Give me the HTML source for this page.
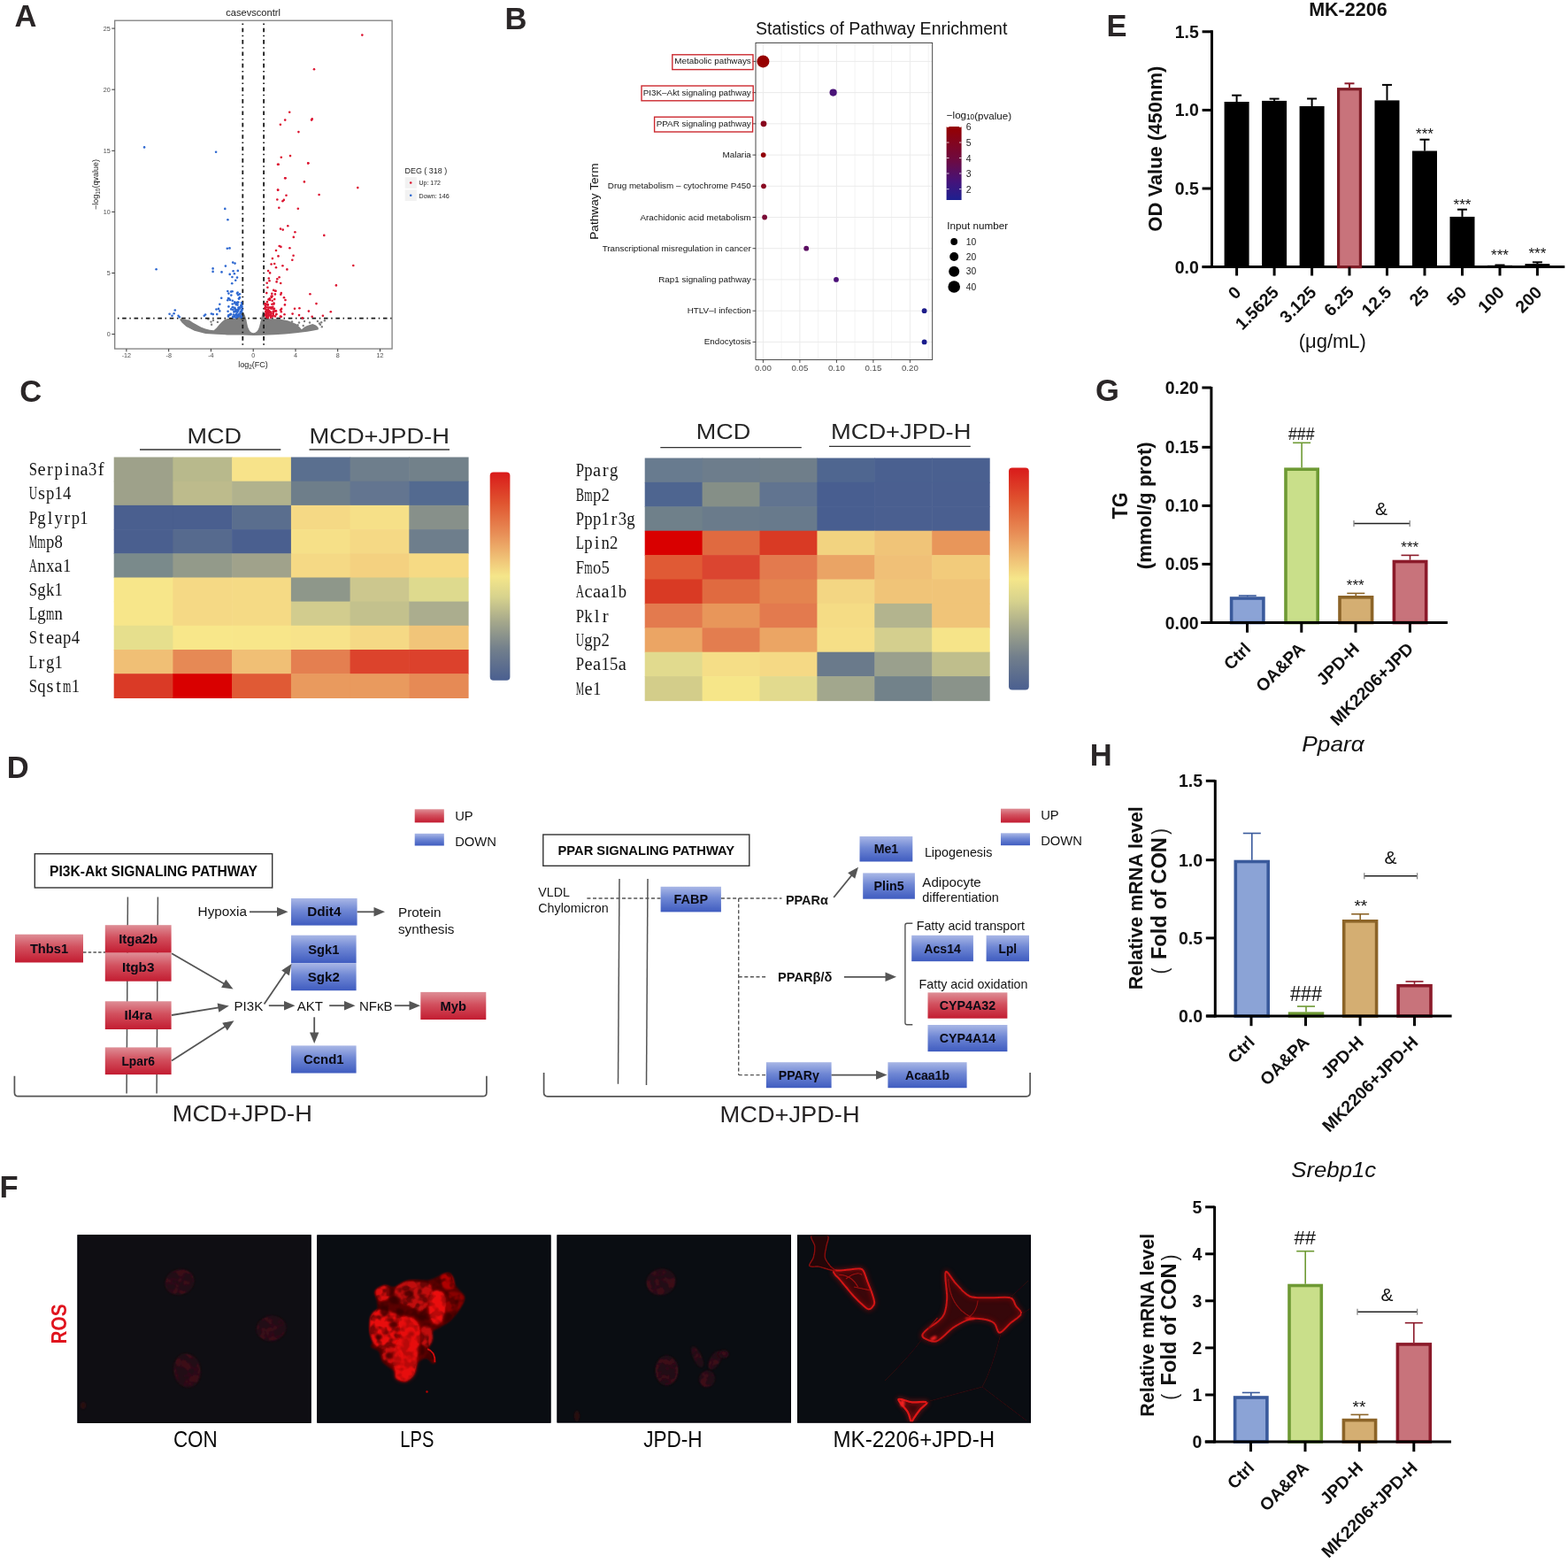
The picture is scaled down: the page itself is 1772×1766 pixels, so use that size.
<!DOCTYPE html>
<html><head><meta charset="utf-8"><title>Figure</title>
<style>html,body{margin:0;padding:0;background:#fff;}svg{display:block;font-family:"Liberation Sans",Arial,sans-serif;}</style>
</head><body>
<svg width="1772" height="1766" viewBox="0 0 1772 1766">
<text x="16.6" y="29.5" font-size="34.5" font-weight="bold" fill="#2A2627">A</text>
<text x="286.1" y="13.5" font-size="11" text-anchor="middle" fill="#1a1a1a" textLength="61.6" lengthAdjust="spacingAndGlyphs" dominant-baseline="central">casevscontrl</text>
<path d="M203.5,360 L207.4,360.8 L213.6,361.6 L218,364.5 L222.9,367.3 L227.5,369.8 L232.2,371.6 L237,372.8 L241.6,373.3 L244.7,370.4 L247.8,366.7 L250.9,363.6 L254,361.1 L257.1,359.9 L266.4,359.8 L271,357 L273.2,352.8 L275.2,353.1 L276.7,356 L278.3,361.1 L279.3,366 L280.0,369.2 L281.3,372.2 L282.4,374.2 L284.3,375.8 L286.4,376.3 L288.5,375.8 L290.5,374.2 L291.8,372.2 L293.0,369.2 L293.8,366 L295.0,361.1 L296.0,356 L297.1,351.1 L298.5,355 L299.3,359.9 L316,360.5 L325.3,362.3 L334.7,366.1 L338.5,369.5 L340.9,372.3 L344,369.6 L347.1,367.9 L353.3,366.1 L357,367.5 L359.5,369.8 L360,371.5 L359.5,372.6 L353,373.8 L347.1,374.8 L334.7,376.2 L322.2,377.4 L309.8,378.2 L297.4,378.8 L286.2,378.9 L273.8,378.6 L257.1,378.4 L244.7,377.8 L232.2,377.0 L219.8,373.8 L210.5,369.0 L205.5,364.5 L203.6,361.2 Z" fill="#7F7F7F" />
<circle cx="344.0" cy="363.0" r="1.2" fill="#7F7F7F"/>
<circle cx="342.7" cy="368.0" r="1.2" fill="#7F7F7F"/>
<circle cx="358.9" cy="363.0" r="1.2" fill="#7F7F7F"/>
<circle cx="363.2" cy="364.2" r="1.2" fill="#7F7F7F"/>
<circle cx="362.0" cy="366.7" r="1.2" fill="#7F7F7F"/>
<circle cx="363.8" cy="369.2" r="1.2" fill="#7F7F7F"/>
<circle cx="366.9" cy="362.3" r="1.2" fill="#7F7F7F"/>
<circle cx="336.5" cy="367.3" r="1.2" fill="#7F7F7F"/>
<circle cx="338.0" cy="364.5" r="1.2" fill="#7F7F7F"/>
<circle cx="238.5" cy="363.6" r="1.2" fill="#7F7F7F"/>
<circle cx="239.1" cy="366.7" r="1.2" fill="#7F7F7F"/>
<circle cx="245.9" cy="363.9" r="1.2" fill="#7F7F7F"/>
<circle cx="235.3" cy="360.5" r="1.2" fill="#7F7F7F"/>
<circle cx="204.9" cy="361.7" r="1.2" fill="#7F7F7F"/>
<circle cx="241.0" cy="362.0" r="1.2" fill="#7F7F7F"/>
<circle cx="330.0" cy="363.5" r="1.2" fill="#7F7F7F"/>
<circle cx="350.0" cy="364.5" r="1.2" fill="#7F7F7F"/>
<circle cx="361.0" cy="365.5" r="1.2" fill="#7F7F7F"/>
<rect x="129.7" y="23.2" width="313.4" height="370.9" fill="none" stroke="#7F7F7F" stroke-width="1.3" />
<line x1="274.3" y1="23.8" x2="274.3" y2="393.5" stroke="#1a1a1a" stroke-width="1.8" stroke-dasharray="4.6,3.6,1.5,3.7" stroke-dashoffset="5.55"/>
<line x1="298.1" y1="23.8" x2="298.1" y2="393.5" stroke="#1a1a1a" stroke-width="1.8" stroke-dasharray="4.6,3.6,1.5,3.7" stroke-dashoffset="5.55"/>
<line x1="130.3" y1="359.6" x2="442.5" y2="359.6" stroke="#1a1a1a" stroke-width="1.8" stroke-dasharray="4.6,3.6,1.5,3.7" stroke-dashoffset="5.55"/>
<circle cx="409.3" cy="39.6" r="1.3" fill="#DC1430"/>
<circle cx="355.0" cy="78.3" r="1.3" fill="#DC1430"/>
<circle cx="327.2" cy="126.8" r="1.3" fill="#DC1430"/>
<circle cx="322.2" cy="135.6" r="1.3" fill="#DC1430"/>
<circle cx="316.9" cy="140.8" r="1.3" fill="#DC1430"/>
<circle cx="352.7" cy="134.4" r="1.3" fill="#DC1430"/>
<circle cx="352.1" cy="135.6" r="1.3" fill="#DC1430"/>
<circle cx="337.4" cy="149.1" r="1.3" fill="#DC1430"/>
<circle cx="317.8" cy="177.8" r="1.3" fill="#DC1430"/>
<circle cx="328.0" cy="176.1" r="1.3" fill="#DC1430"/>
<circle cx="314.0" cy="185.7" r="1.3" fill="#DC1430"/>
<circle cx="348.3" cy="184.3" r="1.3" fill="#DC1430"/>
<circle cx="322.2" cy="201.3" r="1.3" fill="#DC1430"/>
<circle cx="343.9" cy="205.4" r="1.3" fill="#DC1430"/>
<circle cx="404.3" cy="212.1" r="1.3" fill="#DC1430"/>
<circle cx="314.0" cy="214.5" r="1.3" fill="#DC1430"/>
<circle cx="314.7" cy="185.8" r="1.3" fill="#DC1430"/>
<circle cx="348.2" cy="184.5" r="1.3" fill="#DC1430"/>
<circle cx="322.5" cy="201.3" r="1.3" fill="#DC1430"/>
<circle cx="314.2" cy="214.8" r="1.3" fill="#DC1430"/>
<circle cx="323.5" cy="220.8" r="1.3" fill="#DC1430"/>
<circle cx="360.6" cy="220.0" r="1.3" fill="#DC1430"/>
<circle cx="313.3" cy="225.5" r="1.3" fill="#DC1430"/>
<circle cx="319.4" cy="227.2" r="1.3" fill="#DC1430"/>
<circle cx="320.8" cy="225.9" r="1.3" fill="#DC1430"/>
<circle cx="315.3" cy="234.8" r="1.3" fill="#DC1430"/>
<circle cx="336.8" cy="235.7" r="1.3" fill="#DC1430"/>
<circle cx="325.3" cy="255.3" r="1.3" fill="#DC1430"/>
<circle cx="317.0" cy="258.6" r="1.3" fill="#DC1430"/>
<circle cx="319.7" cy="259.6" r="1.3" fill="#DC1430"/>
<circle cx="333.4" cy="262.2" r="1.3" fill="#DC1430"/>
<circle cx="366.3" cy="265.9" r="1.3" fill="#DC1430"/>
<circle cx="331.8" cy="267.9" r="1.3" fill="#DC1430"/>
<circle cx="315.7" cy="278.0" r="1.3" fill="#DC1430"/>
<circle cx="317.4" cy="278.9" r="1.3" fill="#DC1430"/>
<circle cx="327.4" cy="280.2" r="1.3" fill="#DC1430"/>
<circle cx="312.0" cy="283.0" r="1.3" fill="#DC1430"/>
<circle cx="331.6" cy="288.7" r="1.3" fill="#DC1430"/>
<circle cx="314.5" cy="289.4" r="1.3" fill="#DC1430"/>
<circle cx="330.3" cy="293.8" r="1.3" fill="#DC1430"/>
<circle cx="307.9" cy="292.1" r="1.3" fill="#DC1430"/>
<circle cx="306.6" cy="298.5" r="1.3" fill="#DC1430"/>
<circle cx="310.2" cy="298.0" r="1.3" fill="#DC1430"/>
<circle cx="319.4" cy="300.3" r="1.3" fill="#DC1430"/>
<circle cx="312.0" cy="302.3" r="1.3" fill="#DC1430"/>
<circle cx="399.3" cy="300.0" r="1.3" fill="#DC1430"/>
<circle cx="324.4" cy="304.4" r="1.3" fill="#DC1430"/>
<circle cx="303.1" cy="306.1" r="1.3" fill="#DC1430"/>
<circle cx="305.1" cy="308.4" r="1.3" fill="#DC1430"/>
<circle cx="315.6" cy="313.2" r="1.3" fill="#DC1430"/>
<circle cx="313.3" cy="315.2" r="1.3" fill="#DC1430"/>
<circle cx="303.8" cy="314.5" r="1.3" fill="#DC1430"/>
<circle cx="304.5" cy="317.3" r="1.3" fill="#DC1430"/>
<circle cx="312.6" cy="318.4" r="1.3" fill="#DC1430"/>
<circle cx="317.2" cy="320.0" r="1.3" fill="#DC1430"/>
<circle cx="301.7" cy="319.7" r="1.3" fill="#DC1430"/>
<circle cx="379.9" cy="322.4" r="1.3" fill="#DC1430"/>
<circle cx="302.4" cy="324.7" r="1.3" fill="#DC1430"/>
<circle cx="309.2" cy="327.9" r="1.3" fill="#DC1430"/>
<circle cx="350.4" cy="332.2" r="1.3" fill="#DC1430"/>
<circle cx="317.8" cy="331.1" r="1.3" fill="#DC1430"/>
<circle cx="357.5" cy="343.1" r="1.3" fill="#DC1430"/>
<circle cx="373.8" cy="352.3" r="1.3" fill="#DC1430"/>
<circle cx="364.9" cy="356.7" r="1.3" fill="#DC1430"/>
<circle cx="348.9" cy="351.6" r="1.3" fill="#DC1430"/>
<circle cx="338.4" cy="348.2" r="1.3" fill="#DC1430"/>
<circle cx="333.0" cy="348.8" r="1.3" fill="#DC1430"/>
<circle cx="330.6" cy="354.6" r="1.3" fill="#DC1430"/>
<circle cx="338.0" cy="356.1" r="1.3" fill="#DC1430"/>
<circle cx="321.5" cy="355.3" r="1.3" fill="#DC1430"/>
<circle cx="321.9" cy="344.4" r="1.3" fill="#DC1430"/>
<circle cx="321.0" cy="336.3" r="1.3" fill="#DC1430"/>
<circle cx="322.5" cy="339.0" r="1.3" fill="#DC1430"/>
<circle cx="352.7" cy="357.8" r="1.3" fill="#DC1430"/>
<circle cx="341.8" cy="359.4" r="1.3" fill="#DC1430"/>
<circle cx="300.9" cy="352.9" r="1.3" fill="#DC1430"/>
<circle cx="300.7" cy="355.2" r="1.3" fill="#DC1430"/>
<circle cx="305.2" cy="356.4" r="1.3" fill="#DC1430"/>
<circle cx="306.4" cy="353.9" r="1.3" fill="#DC1430"/>
<circle cx="305.9" cy="356.0" r="1.3" fill="#DC1430"/>
<circle cx="301.8" cy="356.8" r="1.3" fill="#DC1430"/>
<circle cx="310.0" cy="348.7" r="1.3" fill="#DC1430"/>
<circle cx="302.5" cy="353.0" r="1.3" fill="#DC1430"/>
<circle cx="310.2" cy="338.1" r="1.3" fill="#DC1430"/>
<circle cx="305.0" cy="353.4" r="1.3" fill="#DC1430"/>
<circle cx="301.2" cy="358.4" r="1.3" fill="#DC1430"/>
<circle cx="302.6" cy="351.3" r="1.3" fill="#DC1430"/>
<circle cx="301.2" cy="354.3" r="1.3" fill="#DC1430"/>
<circle cx="303.5" cy="338.4" r="1.3" fill="#DC1430"/>
<circle cx="302.8" cy="344.6" r="1.3" fill="#DC1430"/>
<circle cx="303.2" cy="350.1" r="1.3" fill="#DC1430"/>
<circle cx="301.4" cy="357.7" r="1.3" fill="#DC1430"/>
<circle cx="303.3" cy="356.0" r="1.3" fill="#DC1430"/>
<circle cx="302.1" cy="347.5" r="1.3" fill="#DC1430"/>
<circle cx="302.6" cy="344.3" r="1.3" fill="#DC1430"/>
<circle cx="304.5" cy="356.1" r="1.3" fill="#DC1430"/>
<circle cx="302.0" cy="341.1" r="1.3" fill="#DC1430"/>
<circle cx="299.5" cy="343.3" r="1.3" fill="#DC1430"/>
<circle cx="312.3" cy="355.1" r="1.3" fill="#DC1430"/>
<circle cx="299.9" cy="349.2" r="1.3" fill="#DC1430"/>
<circle cx="302.4" cy="358.3" r="1.3" fill="#DC1430"/>
<circle cx="308.7" cy="349.1" r="1.3" fill="#DC1430"/>
<circle cx="303.6" cy="347.6" r="1.3" fill="#DC1430"/>
<circle cx="308.6" cy="354.7" r="1.3" fill="#DC1430"/>
<circle cx="300.0" cy="343.4" r="1.3" fill="#DC1430"/>
<circle cx="303.2" cy="351.7" r="1.3" fill="#DC1430"/>
<circle cx="302.1" cy="343.8" r="1.3" fill="#DC1430"/>
<circle cx="305.5" cy="352.6" r="1.3" fill="#DC1430"/>
<circle cx="307.6" cy="334.6" r="1.3" fill="#DC1430"/>
<circle cx="308.7" cy="356.1" r="1.3" fill="#DC1430"/>
<circle cx="308.6" cy="352.1" r="1.3" fill="#DC1430"/>
<circle cx="311.5" cy="328.8" r="1.3" fill="#DC1430"/>
<circle cx="301.5" cy="350.2" r="1.3" fill="#DC1430"/>
<circle cx="306.5" cy="347.3" r="1.3" fill="#DC1430"/>
<circle cx="306.4" cy="357.1" r="1.3" fill="#DC1430"/>
<circle cx="300.8" cy="353.8" r="1.3" fill="#DC1430"/>
<circle cx="309.6" cy="351.6" r="1.3" fill="#DC1430"/>
<circle cx="302.6" cy="352.4" r="1.3" fill="#DC1430"/>
<circle cx="309.4" cy="343.6" r="1.3" fill="#DC1430"/>
<circle cx="305.4" cy="352.6" r="1.3" fill="#DC1430"/>
<circle cx="312.0" cy="351.4" r="1.3" fill="#DC1430"/>
<circle cx="304.7" cy="337.3" r="1.3" fill="#DC1430"/>
<circle cx="300.4" cy="346.8" r="1.3" fill="#DC1430"/>
<circle cx="307.7" cy="339.7" r="1.3" fill="#DC1430"/>
<circle cx="302.8" cy="357.2" r="1.3" fill="#DC1430"/>
<circle cx="301.3" cy="351.2" r="1.3" fill="#DC1430"/>
<circle cx="300.0" cy="345.3" r="1.3" fill="#DC1430"/>
<circle cx="303.5" cy="354.0" r="1.3" fill="#DC1430"/>
<circle cx="306.0" cy="358.7" r="1.3" fill="#DC1430"/>
<circle cx="304.9" cy="347.6" r="1.3" fill="#DC1430"/>
<circle cx="308.7" cy="353.7" r="1.3" fill="#DC1430"/>
<circle cx="308.2" cy="357.4" r="1.3" fill="#DC1430"/>
<circle cx="300.2" cy="355.4" r="1.3" fill="#DC1430"/>
<circle cx="308.3" cy="346.7" r="1.3" fill="#DC1430"/>
<circle cx="307.4" cy="343.8" r="1.3" fill="#DC1430"/>
<circle cx="304.3" cy="351.4" r="1.3" fill="#DC1430"/>
<circle cx="306.5" cy="348.7" r="1.3" fill="#DC1430"/>
<circle cx="301.4" cy="357.3" r="1.3" fill="#DC1430"/>
<circle cx="300.2" cy="352.1" r="1.3" fill="#DC1430"/>
<circle cx="300.3" cy="355.7" r="1.3" fill="#DC1430"/>
<circle cx="302.9" cy="359.0" r="1.3" fill="#DC1430"/>
<circle cx="304.2" cy="352.2" r="1.3" fill="#DC1430"/>
<circle cx="312.3" cy="355.1" r="1.3" fill="#DC1430"/>
<circle cx="302.0" cy="354.5" r="1.3" fill="#DC1430"/>
<circle cx="299.3" cy="347.9" r="1.3" fill="#DC1430"/>
<circle cx="307.3" cy="331.7" r="1.3" fill="#DC1430"/>
<circle cx="317.8" cy="357.8" r="1.3" fill="#DC1430"/>
<circle cx="309.5" cy="342.5" r="1.3" fill="#DC1430"/>
<circle cx="301.3" cy="331.1" r="1.3" fill="#DC1430"/>
<circle cx="306.9" cy="335.9" r="1.3" fill="#DC1430"/>
<circle cx="317.3" cy="332.8" r="1.3" fill="#DC1430"/>
<circle cx="300.0" cy="356.5" r="1.3" fill="#DC1430"/>
<circle cx="310.9" cy="332.4" r="1.3" fill="#DC1430"/>
<circle cx="311.2" cy="328.8" r="1.3" fill="#DC1430"/>
<circle cx="310.9" cy="357.4" r="1.3" fill="#DC1430"/>
<circle cx="318.1" cy="348.9" r="1.3" fill="#DC1430"/>
<circle cx="305.1" cy="339.0" r="1.3" fill="#DC1430"/>
<circle cx="303.1" cy="351.2" r="1.3" fill="#DC1430"/>
<circle cx="311.0" cy="351.4" r="1.3" fill="#DC1430"/>
<circle cx="306.6" cy="334.7" r="1.3" fill="#DC1430"/>
<circle cx="316.9" cy="357.5" r="1.3" fill="#DC1430"/>
<circle cx="317.8" cy="352.2" r="1.3" fill="#DC1430"/>
<circle cx="317.1" cy="350.2" r="1.3" fill="#DC1430"/>
<circle cx="163.1" cy="166.4" r="1.3" fill="#2E68D0"/>
<circle cx="244.1" cy="171.7" r="1.3" fill="#2E68D0"/>
<circle cx="254.3" cy="235.9" r="1.3" fill="#2E68D0"/>
<circle cx="257.4" cy="248.2" r="1.3" fill="#2E68D0"/>
<circle cx="256.8" cy="280.7" r="1.3" fill="#2E68D0"/>
<circle cx="259.5" cy="280.4" r="1.3" fill="#2E68D0"/>
<circle cx="263.2" cy="296.6" r="1.3" fill="#2E68D0"/>
<circle cx="265.5" cy="297.6" r="1.3" fill="#2E68D0"/>
<circle cx="254.9" cy="300.6" r="1.3" fill="#2E68D0"/>
<circle cx="176.6" cy="304.3" r="1.3" fill="#2E68D0"/>
<circle cx="240.6" cy="303.4" r="1.3" fill="#2E68D0"/>
<circle cx="240.6" cy="306.9" r="1.3" fill="#2E68D0"/>
<circle cx="250.5" cy="307.4" r="1.3" fill="#2E68D0"/>
<circle cx="263.6" cy="306.2" r="1.3" fill="#2E68D0"/>
<circle cx="268.8" cy="305.9" r="1.3" fill="#2E68D0"/>
<circle cx="259.7" cy="309.9" r="1.3" fill="#2E68D0"/>
<circle cx="264.9" cy="309.3" r="1.3" fill="#2E68D0"/>
<circle cx="262.4" cy="313.0" r="1.3" fill="#2E68D0"/>
<circle cx="268.0" cy="313.6" r="1.3" fill="#2E68D0"/>
<circle cx="266.2" cy="316.8" r="1.3" fill="#2E68D0"/>
<circle cx="262.2" cy="320.2" r="1.3" fill="#2E68D0"/>
<circle cx="257.3" cy="329.0" r="1.3" fill="#2E68D0"/>
<circle cx="261.1" cy="329.6" r="1.3" fill="#2E68D0"/>
<circle cx="262.6" cy="329.2" r="1.3" fill="#2E68D0"/>
<circle cx="268.0" cy="331.5" r="1.3" fill="#2E68D0"/>
<circle cx="269.2" cy="333.3" r="1.3" fill="#2E68D0"/>
<circle cx="250.2" cy="336.8" r="1.3" fill="#2E68D0"/>
<circle cx="258.0" cy="337.1" r="1.3" fill="#2E68D0"/>
<circle cx="248.3" cy="343.7" r="1.3" fill="#2E68D0"/>
<circle cx="244.5" cy="349.5" r="1.3" fill="#2E68D0"/>
<circle cx="247.0" cy="348.9" r="1.3" fill="#2E68D0"/>
<circle cx="248.3" cy="351.4" r="1.3" fill="#2E68D0"/>
<circle cx="245.2" cy="355.1" r="1.3" fill="#2E68D0"/>
<circle cx="238.9" cy="354.5" r="1.3" fill="#2E68D0"/>
<circle cx="240.8" cy="355.1" r="1.3" fill="#2E68D0"/>
<circle cx="230.8" cy="356.8" r="1.3" fill="#2E68D0"/>
<circle cx="232.1" cy="355.5" r="1.3" fill="#2E68D0"/>
<circle cx="197.8" cy="350.5" r="1.3" fill="#2E68D0"/>
<circle cx="196.6" cy="354.3" r="1.3" fill="#2E68D0"/>
<circle cx="194.5" cy="356.8" r="1.3" fill="#2E68D0"/>
<circle cx="191.6" cy="354.8" r="1.3" fill="#2E68D0"/>
<circle cx="201.6" cy="356.8" r="1.3" fill="#2E68D0"/>
<circle cx="202.8" cy="358.3" r="1.3" fill="#2E68D0"/>
<circle cx="272.5" cy="345.9" r="1.3" fill="#2E68D0"/>
<circle cx="272.7" cy="356.9" r="1.3" fill="#2E68D0"/>
<circle cx="269.1" cy="357.4" r="1.3" fill="#2E68D0"/>
<circle cx="273.0" cy="342.1" r="1.3" fill="#2E68D0"/>
<circle cx="267.7" cy="355.8" r="1.3" fill="#2E68D0"/>
<circle cx="258.4" cy="346.4" r="1.3" fill="#2E68D0"/>
<circle cx="268.5" cy="356.1" r="1.3" fill="#2E68D0"/>
<circle cx="272.8" cy="351.2" r="1.3" fill="#2E68D0"/>
<circle cx="272.3" cy="352.0" r="1.3" fill="#2E68D0"/>
<circle cx="265.1" cy="342.4" r="1.3" fill="#2E68D0"/>
<circle cx="270.1" cy="348.4" r="1.3" fill="#2E68D0"/>
<circle cx="267.9" cy="342.8" r="1.3" fill="#2E68D0"/>
<circle cx="266.5" cy="350.8" r="1.3" fill="#2E68D0"/>
<circle cx="265.4" cy="348.7" r="1.3" fill="#2E68D0"/>
<circle cx="273.5" cy="346.5" r="1.3" fill="#2E68D0"/>
<circle cx="269.3" cy="341.5" r="1.3" fill="#2E68D0"/>
<circle cx="268.6" cy="341.8" r="1.3" fill="#2E68D0"/>
<circle cx="268.1" cy="357.0" r="1.3" fill="#2E68D0"/>
<circle cx="262.7" cy="343.5" r="1.3" fill="#2E68D0"/>
<circle cx="273.0" cy="352.4" r="1.3" fill="#2E68D0"/>
<circle cx="271.3" cy="354.5" r="1.3" fill="#2E68D0"/>
<circle cx="265.3" cy="347.8" r="1.3" fill="#2E68D0"/>
<circle cx="267.3" cy="342.6" r="1.3" fill="#2E68D0"/>
<circle cx="265.5" cy="357.0" r="1.3" fill="#2E68D0"/>
<circle cx="269.4" cy="347.8" r="1.3" fill="#2E68D0"/>
<circle cx="272.9" cy="357.6" r="1.3" fill="#2E68D0"/>
<circle cx="265.7" cy="356.1" r="1.3" fill="#2E68D0"/>
<circle cx="260.9" cy="354.7" r="1.3" fill="#2E68D0"/>
<circle cx="263.3" cy="350.0" r="1.3" fill="#2E68D0"/>
<circle cx="271.8" cy="352.3" r="1.3" fill="#2E68D0"/>
<circle cx="273.4" cy="349.8" r="1.3" fill="#2E68D0"/>
<circle cx="273.1" cy="344.4" r="1.3" fill="#2E68D0"/>
<circle cx="273.2" cy="347.6" r="1.3" fill="#2E68D0"/>
<circle cx="265.3" cy="341.3" r="1.3" fill="#2E68D0"/>
<circle cx="269.8" cy="349.3" r="1.3" fill="#2E68D0"/>
<circle cx="263.2" cy="347.1" r="1.3" fill="#2E68D0"/>
<circle cx="262.7" cy="347.2" r="1.3" fill="#2E68D0"/>
<circle cx="266.7" cy="358.9" r="1.3" fill="#2E68D0"/>
<circle cx="272.4" cy="358.7" r="1.3" fill="#2E68D0"/>
<circle cx="270.2" cy="356.4" r="1.3" fill="#2E68D0"/>
<circle cx="263.6" cy="358.5" r="1.3" fill="#2E68D0"/>
<circle cx="270.6" cy="348.0" r="1.3" fill="#2E68D0"/>
<circle cx="272.4" cy="345.1" r="1.3" fill="#2E68D0"/>
<circle cx="270.4" cy="347.2" r="1.3" fill="#2E68D0"/>
<circle cx="264.4" cy="352.4" r="1.3" fill="#2E68D0"/>
<circle cx="268.0" cy="350.3" r="1.3" fill="#2E68D0"/>
<circle cx="273.5" cy="350.1" r="1.3" fill="#2E68D0"/>
<circle cx="272.6" cy="346.0" r="1.3" fill="#2E68D0"/>
<circle cx="264.9" cy="352.0" r="1.3" fill="#2E68D0"/>
<circle cx="268.4" cy="352.8" r="1.3" fill="#2E68D0"/>
<circle cx="268.5" cy="350.5" r="1.3" fill="#2E68D0"/>
<circle cx="265.1" cy="357.7" r="1.3" fill="#2E68D0"/>
<circle cx="267.0" cy="355.0" r="1.3" fill="#2E68D0"/>
<circle cx="260.5" cy="355.4" r="1.3" fill="#2E68D0"/>
<circle cx="270.0" cy="337.6" r="1.3" fill="#2E68D0"/>
<circle cx="269.5" cy="356.0" r="1.3" fill="#2E68D0"/>
<circle cx="261.2" cy="349.4" r="1.3" fill="#2E68D0"/>
<circle cx="271.9" cy="354.0" r="1.3" fill="#2E68D0"/>
<circle cx="269.2" cy="350.8" r="1.3" fill="#2E68D0"/>
<circle cx="269.8" cy="355.4" r="1.3" fill="#2E68D0"/>
<circle cx="266.2" cy="351.7" r="1.3" fill="#2E68D0"/>
<circle cx="271.0" cy="336.1" r="1.3" fill="#2E68D0"/>
<circle cx="268.6" cy="344.6" r="1.3" fill="#2E68D0"/>
<circle cx="271.9" cy="353.8" r="1.3" fill="#2E68D0"/>
<circle cx="262.8" cy="339.7" r="1.3" fill="#2E68D0"/>
<circle cx="270.9" cy="332.3" r="1.3" fill="#2E68D0"/>
<circle cx="268.4" cy="351.4" r="1.3" fill="#2E68D0"/>
<circle cx="263.1" cy="357.7" r="1.3" fill="#2E68D0"/>
<circle cx="270.4" cy="349.1" r="1.3" fill="#2E68D0"/>
<circle cx="268.5" cy="358.0" r="1.3" fill="#2E68D0"/>
<circle cx="260.1" cy="338.9" r="1.3" fill="#2E68D0"/>
<circle cx="268.6" cy="330.5" r="1.3" fill="#2E68D0"/>
<circle cx="265.9" cy="342.3" r="1.3" fill="#2E68D0"/>
<circle cx="257.3" cy="339.3" r="1.3" fill="#2E68D0"/>
<circle cx="267.0" cy="344.3" r="1.3" fill="#2E68D0"/>
<circle cx="258.0" cy="357.6" r="1.3" fill="#2E68D0"/>
<circle cx="269.6" cy="357.2" r="1.3" fill="#2E68D0"/>
<circle cx="258.7" cy="337.4" r="1.3" fill="#2E68D0"/>
<circle cx="257.6" cy="351.8" r="1.3" fill="#2E68D0"/>
<circle cx="261.3" cy="333.6" r="1.3" fill="#2E68D0"/>
<circle cx="263.8" cy="355.5" r="1.3" fill="#2E68D0"/>
<circle cx="270.1" cy="337.2" r="1.3" fill="#2E68D0"/>
<circle cx="259.4" cy="355.7" r="1.3" fill="#2E68D0"/>
<circle cx="266.1" cy="349.6" r="1.3" fill="#2E68D0"/>
<circle cx="258.4" cy="331.6" r="1.3" fill="#2E68D0"/>
<circle cx="268.0" cy="341.9" r="1.3" fill="#2E68D0"/>
<circle cx="258.2" cy="356.3" r="1.3" fill="#2E68D0"/>
<circle cx="267.2" cy="352.4" r="1.3" fill="#2E68D0"/>
<line x1="126.3" y1="377.6" x2="129.7" y2="377.6" stroke="#333" stroke-width="1" />
<text x="124.8" y="377.6" font-size="7.2" text-anchor="end" fill="#4D4D4D" dominant-baseline="central">0</text>
<line x1="126.3" y1="308.5" x2="129.7" y2="308.5" stroke="#333" stroke-width="1" />
<text x="124.8" y="308.5" font-size="7.2" text-anchor="end" fill="#4D4D4D" dominant-baseline="central">5</text>
<line x1="126.3" y1="239.4" x2="129.7" y2="239.4" stroke="#333" stroke-width="1" />
<text x="124.8" y="239.4" font-size="7.2" text-anchor="end" fill="#4D4D4D" dominant-baseline="central">10</text>
<line x1="126.3" y1="170.3" x2="129.7" y2="170.3" stroke="#333" stroke-width="1" />
<text x="124.8" y="170.3" font-size="7.2" text-anchor="end" fill="#4D4D4D" dominant-baseline="central">15</text>
<line x1="126.3" y1="101.2" x2="129.7" y2="101.2" stroke="#333" stroke-width="1" />
<text x="124.8" y="101.2" font-size="7.2" text-anchor="end" fill="#4D4D4D" dominant-baseline="central">20</text>
<line x1="126.3" y1="32.1" x2="129.7" y2="32.1" stroke="#333" stroke-width="1" />
<text x="124.8" y="32.1" font-size="7.2" text-anchor="end" fill="#4D4D4D" dominant-baseline="central">25</text>
<line x1="142.9" y1="394.1" x2="142.9" y2="397.4" stroke="#333" stroke-width="1" />
<text x="142.9" y="401.3" font-size="7.2" text-anchor="middle" fill="#4D4D4D" dominant-baseline="central">-12</text>
<line x1="190.7" y1="394.1" x2="190.7" y2="397.4" stroke="#333" stroke-width="1" />
<text x="190.7" y="401.3" font-size="7.2" text-anchor="middle" fill="#4D4D4D" dominant-baseline="central">-8</text>
<line x1="238.4" y1="394.1" x2="238.4" y2="397.4" stroke="#333" stroke-width="1" />
<text x="238.4" y="401.3" font-size="7.2" text-anchor="middle" fill="#4D4D4D" dominant-baseline="central">-4</text>
<line x1="286.2" y1="394.1" x2="286.2" y2="397.4" stroke="#333" stroke-width="1" />
<text x="286.2" y="401.3" font-size="7.2" text-anchor="middle" fill="#4D4D4D" dominant-baseline="central">0</text>
<line x1="334.0" y1="394.1" x2="334.0" y2="397.4" stroke="#333" stroke-width="1" />
<text x="334.0" y="401.3" font-size="7.2" text-anchor="middle" fill="#4D4D4D" dominant-baseline="central">4</text>
<line x1="381.7" y1="394.1" x2="381.7" y2="397.4" stroke="#333" stroke-width="1" />
<text x="381.7" y="401.3" font-size="7.2" text-anchor="middle" fill="#4D4D4D" dominant-baseline="central">8</text>
<line x1="429.5" y1="394.1" x2="429.5" y2="397.4" stroke="#333" stroke-width="1" />
<text x="429.5" y="401.3" font-size="7.2" text-anchor="middle" fill="#4D4D4D" dominant-baseline="central">12</text>
<text x="286" y="412" font-size="9" text-anchor="middle" dominant-baseline="central" fill="#1a1a1a">log<tspan font-size="6.5" dy="2">2</tspan><tspan dy="-2">(FC)</tspan></text>
<text x="107.8" y="208.6" font-size="9" text-anchor="middle" dominant-baseline="central" fill="#1a1a1a" transform="rotate(-90 107.8 208.6)">−log<tspan font-size="6.5" dy="2">10</tspan><tspan dy="-2">(qvalue)</tspan></text>
<text x="457.5" y="193.2" font-size="9" fill="#1a1a1a" textLength="47.6" lengthAdjust="spacingAndGlyphs" dominant-baseline="central">DEG ( 318 )</text>
<rect x="457.7" y="200.2" width="13.1" height="12.6" fill="#F2F2F2" />
<rect x="457.7" y="214.4" width="13.1" height="12.6" fill="#F2F2F2" />
<circle cx="464.2" cy="206.5" r="1.3" fill="#DC1430"/>
<circle cx="464.2" cy="220.7" r="1.3" fill="#2E68D0"/>
<text x="473.5" y="206.8" font-size="7" fill="#1a1a1a" textLength="24.5" lengthAdjust="spacingAndGlyphs" dominant-baseline="central">Up: 172</text>
<text x="473.5" y="221.2" font-size="7" fill="#1a1a1a" textLength="34.1" lengthAdjust="spacingAndGlyphs" dominant-baseline="central">Down: 146</text>
<text x="570.4" y="33.0" font-size="34.5" font-weight="bold" fill="#2A2627">B</text>
<text x="996.2" y="32.0" font-size="19.5" text-anchor="middle" fill="#111" textLength="284.4" lengthAdjust="spacingAndGlyphs" dominant-baseline="central">Statistics of Pathway Enrichment</text>
<line x1="862.4" y1="48.4" x2="862.4" y2="406.4" stroke="#EBEBEB" stroke-width="1.0" />
<line x1="883.1" y1="48.4" x2="883.1" y2="406.4" stroke="#EBEBEB" stroke-width="0.6" />
<line x1="903.9" y1="48.4" x2="903.9" y2="406.4" stroke="#EBEBEB" stroke-width="1.0" />
<line x1="924.6" y1="48.4" x2="924.6" y2="406.4" stroke="#EBEBEB" stroke-width="0.6" />
<line x1="945.4" y1="48.4" x2="945.4" y2="406.4" stroke="#EBEBEB" stroke-width="1.0" />
<line x1="966.1" y1="48.4" x2="966.1" y2="406.4" stroke="#EBEBEB" stroke-width="0.6" />
<line x1="986.9" y1="48.4" x2="986.9" y2="406.4" stroke="#EBEBEB" stroke-width="1.0" />
<line x1="1007.6" y1="48.4" x2="1007.6" y2="406.4" stroke="#EBEBEB" stroke-width="0.6" />
<line x1="1028.4" y1="48.4" x2="1028.4" y2="406.4" stroke="#EBEBEB" stroke-width="1.0" />
<line x1="1049.2" y1="48.4" x2="1049.2" y2="406.4" stroke="#EBEBEB" stroke-width="0.6" />
<line x1="854.0" y1="69.4" x2="1053.7" y2="69.4" stroke="#EBEBEB" stroke-width="1.0" />
<line x1="854.0" y1="104.6" x2="1053.7" y2="104.6" stroke="#EBEBEB" stroke-width="1.0" />
<line x1="854.0" y1="139.8" x2="1053.7" y2="139.8" stroke="#EBEBEB" stroke-width="1.0" />
<line x1="854.0" y1="175.1" x2="1053.7" y2="175.1" stroke="#EBEBEB" stroke-width="1.0" />
<line x1="854.0" y1="210.3" x2="1053.7" y2="210.3" stroke="#EBEBEB" stroke-width="1.0" />
<line x1="854.0" y1="245.5" x2="1053.7" y2="245.5" stroke="#EBEBEB" stroke-width="1.0" />
<line x1="854.0" y1="280.7" x2="1053.7" y2="280.7" stroke="#EBEBEB" stroke-width="1.0" />
<line x1="854.0" y1="315.9" x2="1053.7" y2="315.9" stroke="#EBEBEB" stroke-width="1.0" />
<line x1="854.0" y1="351.2" x2="1053.7" y2="351.2" stroke="#EBEBEB" stroke-width="1.0" />
<line x1="854.0" y1="386.4" x2="1053.7" y2="386.4" stroke="#EBEBEB" stroke-width="1.0" />
<rect x="854.0" y="48.4" width="199.7" height="358.0" fill="none" stroke="#333" stroke-width="0.9" />
<line x1="850.5" y1="69.4" x2="854.0" y2="69.4" stroke="#333" stroke-width="0.9" />
<text x="848.8" y="68.9" font-size="9.85" text-anchor="end" fill="#141414" dominant-baseline="central">Metabolic pathways</text>
<line x1="850.5" y1="104.6" x2="854.0" y2="104.6" stroke="#333" stroke-width="0.9" />
<text x="848.8" y="104.1" font-size="9.85" text-anchor="end" fill="#141414" dominant-baseline="central">PI3K–Akt signaling pathway</text>
<line x1="850.5" y1="139.8" x2="854.0" y2="139.8" stroke="#333" stroke-width="0.9" />
<text x="848.8" y="139.3" font-size="9.85" text-anchor="end" fill="#141414" dominant-baseline="central">PPAR signaling pathway</text>
<line x1="850.5" y1="175.1" x2="854.0" y2="175.1" stroke="#333" stroke-width="0.9" />
<text x="848.8" y="174.6" font-size="9.85" text-anchor="end" fill="#141414" dominant-baseline="central">Malaria</text>
<line x1="850.5" y1="210.3" x2="854.0" y2="210.3" stroke="#333" stroke-width="0.9" />
<text x="848.8" y="209.8" font-size="9.85" text-anchor="end" fill="#141414" dominant-baseline="central">Drug metabolism – cytochrome P450</text>
<line x1="850.5" y1="245.5" x2="854.0" y2="245.5" stroke="#333" stroke-width="0.9" />
<text x="848.8" y="245.0" font-size="9.85" text-anchor="end" fill="#141414" dominant-baseline="central">Arachidonic acid metabolism</text>
<line x1="850.5" y1="280.7" x2="854.0" y2="280.7" stroke="#333" stroke-width="0.9" />
<text x="848.8" y="280.2" font-size="9.85" text-anchor="end" fill="#141414" dominant-baseline="central">Transcriptional misregulation in cancer</text>
<line x1="850.5" y1="315.9" x2="854.0" y2="315.9" stroke="#333" stroke-width="0.9" />
<text x="848.8" y="315.4" font-size="9.85" text-anchor="end" fill="#141414" dominant-baseline="central">Rap1 signaling pathway</text>
<line x1="850.5" y1="351.2" x2="854.0" y2="351.2" stroke="#333" stroke-width="0.9" />
<text x="848.8" y="350.7" font-size="9.85" text-anchor="end" fill="#141414" dominant-baseline="central">HTLV–I infection</text>
<line x1="850.5" y1="386.4" x2="854.0" y2="386.4" stroke="#333" stroke-width="0.9" />
<text x="848.8" y="385.9" font-size="9.85" text-anchor="end" fill="#141414" dominant-baseline="central">Endocytosis</text>
<rect x="759.8" y="61.8" width="91.2" height="16.8" fill="none" stroke="#CC2A30" stroke-width="1.4" />
<rect x="725.0" y="97.0" width="126.2" height="16.8" fill="none" stroke="#CC2A30" stroke-width="1.4" />
<rect x="739.6" y="132.2" width="111.0" height="16.8" fill="none" stroke="#CC2A30" stroke-width="1.4" />
<circle cx="862.4" cy="69.4" r="7.0" fill="#960000"/>
<circle cx="941.6" cy="104.6" r="4.1" fill="#4A1478"/>
<circle cx="863.0" cy="139.8" r="3.4" fill="#88061E"/>
<circle cx="862.7" cy="175.1" r="2.9" fill="#930008"/>
<circle cx="863.0" cy="210.3" r="2.9" fill="#8A0A22"/>
<circle cx="864.1" cy="245.5" r="2.9" fill="#7A0B36"/>
<circle cx="911.2" cy="280.7" r="2.9" fill="#5B0E62"/>
<circle cx="945.0" cy="315.9" r="2.9" fill="#4A1078"/>
<circle cx="1044.6" cy="351.2" r="2.9" fill="#1E1D8A"/>
<circle cx="1044.6" cy="386.4" r="2.9" fill="#1A1C8C"/>
<line x1="862.4" y1="406.4" x2="862.4" y2="409.9" stroke="#333" stroke-width="0.9" />
<text x="862.4" y="415.8" font-size="9.7" text-anchor="middle" fill="#4D4D4D" dominant-baseline="central">0.00</text>
<line x1="903.9" y1="406.4" x2="903.9" y2="409.9" stroke="#333" stroke-width="0.9" />
<text x="903.9" y="415.8" font-size="9.7" text-anchor="middle" fill="#4D4D4D" dominant-baseline="central">0.05</text>
<line x1="945.4" y1="406.4" x2="945.4" y2="409.9" stroke="#333" stroke-width="0.9" />
<text x="945.4" y="415.8" font-size="9.7" text-anchor="middle" fill="#4D4D4D" dominant-baseline="central">0.10</text>
<line x1="986.9" y1="406.4" x2="986.9" y2="409.9" stroke="#333" stroke-width="0.9" />
<text x="986.9" y="415.8" font-size="9.7" text-anchor="middle" fill="#4D4D4D" dominant-baseline="central">0.15</text>
<line x1="1028.4" y1="406.4" x2="1028.4" y2="409.9" stroke="#333" stroke-width="0.9" />
<text x="1028.4" y="415.8" font-size="9.7" text-anchor="middle" fill="#4D4D4D" dominant-baseline="central">0.20</text>
<text x="671.8" y="227.6" font-size="13.7" text-anchor="middle" fill="#111" textLength="86.3" lengthAdjust="spacingAndGlyphs" transform="rotate(-90 671.8 227.6)" dominant-baseline="central">Pathway Term</text>
<defs><linearGradient id="cbB" x1="0" y1="0" x2="0" y2="1"><stop offset="0" stop-color="#960000"/><stop offset="0.45" stop-color="#6E0A40"/><stop offset="0.75" stop-color="#44137A"/><stop offset="1" stop-color="#1E2090"/></linearGradient></defs>
<text x="1069.8" y="129.7" font-size="11.6" dominant-baseline="central" fill="#111">−log<tspan font-size="8.2" dy="2.6">10</tspan><tspan dy="-2.6">(pvalue)</tspan></text>
<rect x="1069.6" y="143.0" width="17.0" height="83.0" fill="url(#cbB)" />
<line x1="1069.6" y1="143.4" x2="1072.5" y2="143.4" stroke="#fff" stroke-width="0.8" />
<line x1="1084.0" y1="143.4" x2="1086.6" y2="143.4" stroke="#fff" stroke-width="0.8" />
<text x="1091.8" y="143.4" font-size="10.5" fill="#222" dominant-baseline="central">6</text>
<line x1="1069.6" y1="161.0" x2="1072.5" y2="161.0" stroke="#fff" stroke-width="0.8" />
<line x1="1084.0" y1="161.0" x2="1086.6" y2="161.0" stroke="#fff" stroke-width="0.8" />
<text x="1091.8" y="161.0" font-size="10.5" fill="#222" dominant-baseline="central">5</text>
<line x1="1069.6" y1="178.5" x2="1072.5" y2="178.5" stroke="#fff" stroke-width="0.8" />
<line x1="1084.0" y1="178.5" x2="1086.6" y2="178.5" stroke="#fff" stroke-width="0.8" />
<text x="1091.8" y="178.5" font-size="10.5" fill="#222" dominant-baseline="central">4</text>
<line x1="1069.6" y1="196.0" x2="1072.5" y2="196.0" stroke="#fff" stroke-width="0.8" />
<line x1="1084.0" y1="196.0" x2="1086.6" y2="196.0" stroke="#fff" stroke-width="0.8" />
<text x="1091.8" y="196.0" font-size="10.5" fill="#222" dominant-baseline="central">3</text>
<line x1="1069.6" y1="213.7" x2="1072.5" y2="213.7" stroke="#fff" stroke-width="0.8" />
<line x1="1084.0" y1="213.7" x2="1086.6" y2="213.7" stroke="#fff" stroke-width="0.8" />
<text x="1091.8" y="213.7" font-size="10.5" fill="#222" dominant-baseline="central">2</text>
<text x="1070.2" y="254.0" font-size="11.7" fill="#111" dominant-baseline="central">Input number</text>
<circle cx="1078.2" cy="273.0" r="3.9" fill="#000"/>
<text x="1091.8" y="273.0" font-size="10.3" fill="#222" dominant-baseline="central">10</text>
<circle cx="1078.2" cy="290.0" r="5.0" fill="#000"/>
<text x="1091.8" y="290.0" font-size="10.3" fill="#222" dominant-baseline="central">20</text>
<circle cx="1078.2" cy="306.8" r="6.0" fill="#000"/>
<text x="1091.8" y="306.8" font-size="10.3" fill="#222" dominant-baseline="central">30</text>
<circle cx="1078.2" cy="324.0" r="6.8" fill="#000"/>
<text x="1091.8" y="324.0" font-size="10.3" fill="#222" dominant-baseline="central">40</text>
<text x="1250.4" y="41.1" font-size="34.5" font-weight="bold" fill="#2A2627">E</text>
<text x="1523.4" y="10.6" font-size="22.6" text-anchor="middle" font-weight="bold" fill="#111" textLength="88.5" lengthAdjust="spacingAndGlyphs" dominant-baseline="central">MK-2206</text>
<line x1="1369.5" y1="34.3" x2="1369.5" y2="303.1" stroke="#000" stroke-width="3" />
<line x1="1358.6" y1="35.8" x2="1369.5" y2="35.8" stroke="#000" stroke-width="3" />
<text x="1354.8" y="35.8" font-size="19.5" text-anchor="end" font-weight="bold" fill="#111" dominant-baseline="central">1.5</text>
<line x1="1358.6" y1="124.4" x2="1369.5" y2="124.4" stroke="#000" stroke-width="3" />
<text x="1354.8" y="124.4" font-size="19.5" text-anchor="end" font-weight="bold" fill="#111" dominant-baseline="central">1.0</text>
<line x1="1358.6" y1="213.0" x2="1369.5" y2="213.0" stroke="#000" stroke-width="3" />
<text x="1354.8" y="213.0" font-size="19.5" text-anchor="end" font-weight="bold" fill="#111" dominant-baseline="central">0.5</text>
<line x1="1358.6" y1="301.6" x2="1369.5" y2="301.6" stroke="#000" stroke-width="3" />
<text x="1354.8" y="301.6" font-size="19.5" text-anchor="end" font-weight="bold" fill="#111" dominant-baseline="central">0.0</text>
<line x1="1358.6" y1="301.6" x2="1768.3" y2="301.6" stroke="#000" stroke-width="3" />
<line x1="1397.6" y1="107.7" x2="1397.6" y2="115.0" stroke="#000" stroke-width="2" />
<line x1="1392.1" y1="107.7" x2="1403.1" y2="107.7" stroke="#000" stroke-width="2" />
<rect x="1383.6" y="115.0" width="28.0" height="186.6" fill="#000" />
<line x1="1397.6" y1="301.6" x2="1397.6" y2="311.5" stroke="#000" stroke-width="3" />
<line x1="1440.1" y1="111.6" x2="1440.1" y2="113.9" stroke="#000" stroke-width="2" />
<line x1="1434.6" y1="111.6" x2="1445.6" y2="111.6" stroke="#000" stroke-width="2" />
<rect x="1426.1" y="113.9" width="28.0" height="187.7" fill="#000" />
<line x1="1440.1" y1="301.6" x2="1440.1" y2="311.5" stroke="#000" stroke-width="3" />
<line x1="1482.6" y1="111.5" x2="1482.6" y2="120.0" stroke="#000" stroke-width="2" />
<line x1="1477.1" y1="111.5" x2="1488.1" y2="111.5" stroke="#000" stroke-width="2" />
<rect x="1468.6" y="120.0" width="28.0" height="181.6" fill="#000" />
<line x1="1482.6" y1="301.6" x2="1482.6" y2="311.5" stroke="#000" stroke-width="3" />
<line x1="1525.0" y1="94.3" x2="1525.0" y2="99.1" stroke="#8B1A2A" stroke-width="2" />
<line x1="1519.5" y1="94.3" x2="1530.5" y2="94.3" stroke="#8B1A2A" stroke-width="2" />
<rect x="1512.6" y="100.7" width="24.8" height="200.9" fill="#C8737B" stroke="#7E1C26" stroke-width="3.2" />
<line x1="1525.0" y1="301.6" x2="1525.0" y2="311.5" stroke="#000" stroke-width="3" />
<line x1="1567.5" y1="95.9" x2="1567.5" y2="113.4" stroke="#000" stroke-width="2" />
<line x1="1562.0" y1="95.9" x2="1573.0" y2="95.9" stroke="#000" stroke-width="2" />
<rect x="1553.5" y="113.4" width="28.0" height="188.2" fill="#000" />
<line x1="1567.5" y1="301.6" x2="1567.5" y2="311.5" stroke="#000" stroke-width="3" />
<line x1="1610.0" y1="157.7" x2="1610.0" y2="170.5" stroke="#000" stroke-width="2" />
<line x1="1604.5" y1="157.7" x2="1615.5" y2="157.7" stroke="#000" stroke-width="2" />
<rect x="1596.0" y="170.5" width="28.0" height="131.1" fill="#000" />
<line x1="1610.0" y1="301.6" x2="1610.0" y2="311.5" stroke="#000" stroke-width="3" />
<line x1="1652.5" y1="236.7" x2="1652.5" y2="244.9" stroke="#000" stroke-width="2" />
<line x1="1647.0" y1="236.7" x2="1658.0" y2="236.7" stroke="#000" stroke-width="2" />
<rect x="1638.5" y="244.9" width="28.0" height="56.7" fill="#000" />
<line x1="1652.5" y1="301.6" x2="1652.5" y2="311.5" stroke="#000" stroke-width="3" />
<line x1="1695.0" y1="299.5" x2="1695.0" y2="299.8" stroke="#000" stroke-width="2" />
<line x1="1689.5" y1="299.5" x2="1700.5" y2="299.5" stroke="#000" stroke-width="2" />
<rect x="1681.0" y="299.8" width="28.0" height="1.8" fill="#000" />
<line x1="1695.0" y1="301.6" x2="1695.0" y2="311.5" stroke="#000" stroke-width="3" />
<line x1="1737.4" y1="296.3" x2="1737.4" y2="298.1" stroke="#000" stroke-width="2" />
<line x1="1731.9" y1="296.3" x2="1742.9" y2="296.3" stroke="#000" stroke-width="2" />
<rect x="1723.4" y="298.1" width="28.0" height="3.5" fill="#000" />
<line x1="1737.4" y1="301.6" x2="1737.4" y2="311.5" stroke="#000" stroke-width="3" />
<text x="1393.6" y="321.5" font-size="19.5" font-weight="bold" text-anchor="end" dominant-baseline="hanging" fill="#111" transform="rotate(-45 1393.6 321.5)">0</text>
<text x="1436.1" y="321.5" font-size="19.5" font-weight="bold" text-anchor="end" dominant-baseline="hanging" fill="#111" transform="rotate(-45 1436.1 321.5)">1.5625</text>
<text x="1478.6" y="321.5" font-size="19.5" font-weight="bold" text-anchor="end" dominant-baseline="hanging" fill="#111" transform="rotate(-45 1478.6 321.5)">3.125</text>
<text x="1521.0" y="321.5" font-size="19.5" font-weight="bold" text-anchor="end" dominant-baseline="hanging" fill="#111" transform="rotate(-45 1521.0 321.5)">6.25</text>
<text x="1563.5" y="321.5" font-size="19.5" font-weight="bold" text-anchor="end" dominant-baseline="hanging" fill="#111" transform="rotate(-45 1563.5 321.5)">12.5</text>
<text x="1606.0" y="321.5" font-size="19.5" font-weight="bold" text-anchor="end" dominant-baseline="hanging" fill="#111" transform="rotate(-45 1606.0 321.5)">25</text>
<text x="1648.5" y="321.5" font-size="19.5" font-weight="bold" text-anchor="end" dominant-baseline="hanging" fill="#111" transform="rotate(-45 1648.5 321.5)">50</text>
<text x="1691.0" y="321.5" font-size="19.5" font-weight="bold" text-anchor="end" dominant-baseline="hanging" fill="#111" transform="rotate(-45 1691.0 321.5)">100</text>
<text x="1733.4" y="321.5" font-size="19.5" font-weight="bold" text-anchor="end" dominant-baseline="hanging" fill="#111" transform="rotate(-45 1733.4 321.5)">200</text>
<text x="1610.0" y="151.5" font-size="17" text-anchor="middle" fill="#111" dominant-baseline="central">***</text>
<text x="1652.5" y="231.3" font-size="17" text-anchor="middle" fill="#111" dominant-baseline="central">***</text>
<text x="1695.0" y="288.6" font-size="17" text-anchor="middle" fill="#111" dominant-baseline="central">***</text>
<text x="1737.4" y="286.1" font-size="17" text-anchor="middle" fill="#111" dominant-baseline="central">***</text>
<text x="1505.8" y="385.3" font-size="22" text-anchor="middle" fill="#111" textLength="76.3" lengthAdjust="spacingAndGlyphs" dominant-baseline="central">(μg/mL)</text>
<text x="1305.7" y="168.2" font-size="22" text-anchor="middle" font-weight="bold" fill="#111" textLength="187.0" lengthAdjust="spacingAndGlyphs" transform="rotate(-90 1305.7 168.2)" dominant-baseline="central">OD Value (450nm)</text>
<defs><linearGradient id="hmcb" x1="0" y1="0" x2="0" y2="1"><stop offset="0" stop-color="#D91A1A"/><stop offset="0.15" stop-color="#E05530"/><stop offset="0.3" stop-color="#E89058"/><stop offset="0.42" stop-color="#F0C478"/><stop offset="0.5" stop-color="#F5E68A"/><stop offset="0.6" stop-color="#D7D28D"/><stop offset="0.72" stop-color="#A4A78B"/><stop offset="0.85" stop-color="#727F8C"/><stop offset="1" stop-color="#4A5F90"/></linearGradient></defs>
<text x="22.3" y="453.7" font-size="34.5" font-weight="bold" fill="#2A2627">C</text>
<rect x="128.7" y="516.5" width="67.3" height="27.8" fill="#9EA18A" />
<rect x="195.4" y="516.5" width="67.3" height="27.8" fill="#B8B98C" />
<rect x="262.1" y="516.5" width="67.3" height="27.8" fill="#F7E38A" />
<rect x="328.9" y="516.5" width="67.3" height="27.8" fill="#5A6F8F" />
<rect x="395.6" y="516.5" width="67.3" height="27.8" fill="#6E7E8C" />
<rect x="462.3" y="516.5" width="67.3" height="27.8" fill="#72818A" />
<rect x="128.7" y="543.7" width="67.3" height="27.8" fill="#9EA18A" />
<rect x="195.4" y="543.7" width="67.3" height="27.8" fill="#BDBB8C" />
<rect x="262.1" y="543.7" width="67.3" height="27.8" fill="#B1B28D" />
<rect x="328.9" y="543.7" width="67.3" height="27.8" fill="#6E7E8A" />
<rect x="395.6" y="543.7" width="67.3" height="27.8" fill="#637590" />
<rect x="462.3" y="543.7" width="67.3" height="27.8" fill="#536A90" />
<rect x="128.7" y="570.9" width="67.3" height="27.8" fill="#4A5F8F" />
<rect x="195.4" y="570.9" width="67.3" height="27.8" fill="#4A5F8F" />
<rect x="262.1" y="570.9" width="67.3" height="27.8" fill="#5A6E8E" />
<rect x="328.9" y="570.9" width="67.3" height="27.8" fill="#F5D985" />
<rect x="395.6" y="570.9" width="67.3" height="27.8" fill="#F6E088" />
<rect x="462.3" y="570.9" width="67.3" height="27.8" fill="#87908A" />
<rect x="128.7" y="598.1" width="67.3" height="27.8" fill="#4A5F8F" />
<rect x="195.4" y="598.1" width="67.3" height="27.8" fill="#566A8E" />
<rect x="262.1" y="598.1" width="67.3" height="27.8" fill="#4A5F8F" />
<rect x="328.9" y="598.1" width="67.3" height="27.8" fill="#F6E088" />
<rect x="395.6" y="598.1" width="67.3" height="27.8" fill="#F5D985" />
<rect x="462.3" y="598.1" width="67.3" height="27.8" fill="#6E7E8C" />
<rect x="128.7" y="625.3" width="67.3" height="27.8" fill="#7A8A8B" />
<rect x="195.4" y="625.3" width="67.3" height="27.8" fill="#939A8A" />
<rect x="262.1" y="625.3" width="67.3" height="27.8" fill="#A0A28B" />
<rect x="328.9" y="625.3" width="67.3" height="27.8" fill="#F5D985" />
<rect x="395.6" y="625.3" width="67.3" height="27.8" fill="#F4D180" />
<rect x="462.3" y="625.3" width="67.3" height="27.8" fill="#F6DA84" />
<rect x="128.7" y="652.5" width="67.3" height="27.8" fill="#F7E68A" />
<rect x="195.4" y="652.5" width="67.3" height="27.8" fill="#F5D985" />
<rect x="262.1" y="652.5" width="67.3" height="27.8" fill="#F5DA85" />
<rect x="328.9" y="652.5" width="67.3" height="27.8" fill="#8E978A" />
<rect x="395.6" y="652.5" width="67.3" height="27.8" fill="#CCC78E" />
<rect x="462.3" y="652.5" width="67.3" height="27.8" fill="#DEDA8E" />
<rect x="128.7" y="679.6" width="67.3" height="27.8" fill="#F7E68A" />
<rect x="195.4" y="679.6" width="67.3" height="27.8" fill="#F5D985" />
<rect x="262.1" y="679.6" width="67.3" height="27.8" fill="#F5DA85" />
<rect x="328.9" y="679.6" width="67.3" height="27.8" fill="#D2CC8E" />
<rect x="395.6" y="679.6" width="67.3" height="27.8" fill="#C3C18D" />
<rect x="462.3" y="679.6" width="67.3" height="27.8" fill="#ABAD8E" />
<rect x="128.7" y="706.8" width="67.3" height="27.8" fill="#E6DF8D" />
<rect x="195.4" y="706.8" width="67.3" height="27.8" fill="#F8E78A" />
<rect x="262.1" y="706.8" width="67.3" height="27.8" fill="#F8E68A" />
<rect x="328.9" y="706.8" width="67.3" height="27.8" fill="#F7E38A" />
<rect x="395.6" y="706.8" width="67.3" height="27.8" fill="#F5D985" />
<rect x="462.3" y="706.8" width="67.3" height="27.8" fill="#F1C579" />
<rect x="128.7" y="734.0" width="67.3" height="27.8" fill="#F0BF75" />
<rect x="195.4" y="734.0" width="67.3" height="27.8" fill="#E68955" />
<rect x="262.1" y="734.0" width="67.3" height="27.8" fill="#F0BF75" />
<rect x="328.9" y="734.0" width="67.3" height="27.8" fill="#E47F50" />
<rect x="395.6" y="734.0" width="67.3" height="27.8" fill="#DC432C" />
<rect x="462.3" y="734.0" width="67.3" height="27.8" fill="#DC412C" />
<rect x="128.7" y="761.2" width="67.3" height="27.8" fill="#DA3A26" />
<rect x="195.4" y="761.2" width="67.3" height="27.8" fill="#D90000" />
<rect x="262.1" y="761.2" width="67.3" height="27.8" fill="#E05A35" />
<rect x="328.9" y="761.2" width="67.3" height="27.8" fill="#E99A5E" />
<rect x="395.6" y="761.2" width="67.3" height="27.8" fill="#E99A5E" />
<rect x="462.3" y="761.2" width="67.3" height="27.8" fill="#E68A55" />
<text x="32.64" y="530.1" font-size="20.5" font-family='"Liberation Serif", serif' fill="#161616" dominant-baseline="central" textLength="9.33" lengthAdjust="spacingAndGlyphs">S</text>
<text x="42.38" y="530.1" font-size="20.5" font-family='"Liberation Serif", serif' fill="#161616" dominant-baseline="central" textLength="9.10" lengthAdjust="spacingAndGlyphs">e</text>
<text x="53.14" y="530.1" font-size="20.5" font-family='"Liberation Serif", serif' fill="#161616" dominant-baseline="central" textLength="6.83" lengthAdjust="spacingAndGlyphs">r</text>
<text x="61.50" y="530.1" font-size="20.5" font-family='"Liberation Serif", serif' fill="#161616" dominant-baseline="central" textLength="9.33" lengthAdjust="spacingAndGlyphs">p</text>
<text x="72.94" y="530.1" font-size="20.5" font-family='"Liberation Serif", serif' fill="#161616" dominant-baseline="central" textLength="5.70" lengthAdjust="spacingAndGlyphs">i</text>
<text x="80.74" y="530.1" font-size="20.5" font-family='"Liberation Serif", serif' fill="#161616" dominant-baseline="central" textLength="9.33" lengthAdjust="spacingAndGlyphs">n</text>
<text x="90.48" y="530.1" font-size="20.5" font-family='"Liberation Serif", serif' fill="#161616" dominant-baseline="central" textLength="9.10" lengthAdjust="spacingAndGlyphs">a</text>
<text x="99.98" y="530.1" font-size="20.5" font-family='"Liberation Serif", serif' fill="#161616" dominant-baseline="central" textLength="9.33" lengthAdjust="spacingAndGlyphs">3</text>
<text x="110.86" y="530.1" font-size="20.5" font-family='"Liberation Serif", serif' fill="#161616" dominant-baseline="central" textLength="6.83" lengthAdjust="spacingAndGlyphs">f</text>
<text x="32.64" y="557.3" font-size="20.5" font-family='"Liberation Serif", serif' fill="#161616" dominant-baseline="central" textLength="9.33" lengthAdjust="spacingAndGlyphs">U</text>
<text x="42.94" y="557.3" font-size="20.5" font-family='"Liberation Serif", serif' fill="#161616" dominant-baseline="central" textLength="7.98" lengthAdjust="spacingAndGlyphs">s</text>
<text x="51.88" y="557.3" font-size="20.5" font-family='"Liberation Serif", serif' fill="#161616" dominant-baseline="central" textLength="9.33" lengthAdjust="spacingAndGlyphs">p</text>
<text x="61.50" y="557.3" font-size="20.5" font-family='"Liberation Serif", serif' fill="#161616" dominant-baseline="central" textLength="9.33" lengthAdjust="spacingAndGlyphs">1</text>
<text x="71.12" y="557.3" font-size="20.5" font-family='"Liberation Serif", serif' fill="#161616" dominant-baseline="central" textLength="9.33" lengthAdjust="spacingAndGlyphs">4</text>
<text x="32.64" y="584.5" font-size="20.5" font-family='"Liberation Serif", serif' fill="#161616" dominant-baseline="central" textLength="9.33" lengthAdjust="spacingAndGlyphs">P</text>
<text x="42.26" y="584.5" font-size="20.5" font-family='"Liberation Serif", serif' fill="#161616" dominant-baseline="central" textLength="9.33" lengthAdjust="spacingAndGlyphs">g</text>
<text x="53.70" y="584.5" font-size="20.5" font-family='"Liberation Serif", serif' fill="#161616" dominant-baseline="central" textLength="5.70" lengthAdjust="spacingAndGlyphs">l</text>
<text x="61.50" y="584.5" font-size="20.5" font-family='"Liberation Serif", serif' fill="#161616" dominant-baseline="central" textLength="9.33" lengthAdjust="spacingAndGlyphs">y</text>
<text x="72.38" y="584.5" font-size="20.5" font-family='"Liberation Serif", serif' fill="#161616" dominant-baseline="central" textLength="6.83" lengthAdjust="spacingAndGlyphs">r</text>
<text x="80.74" y="584.5" font-size="20.5" font-family='"Liberation Serif", serif' fill="#161616" dominant-baseline="central" textLength="9.33" lengthAdjust="spacingAndGlyphs">p</text>
<text x="90.36" y="584.5" font-size="20.5" font-family='"Liberation Serif", serif' fill="#161616" dominant-baseline="central" textLength="9.33" lengthAdjust="spacingAndGlyphs">1</text>
<text x="32.64" y="611.7" font-size="20.5" font-family='"Liberation Serif", serif' fill="#161616" dominant-baseline="central" textLength="9.33" lengthAdjust="spacingAndGlyphs">M</text>
<text x="42.26" y="611.7" font-size="20.5" font-family='"Liberation Serif", serif' fill="#161616" dominant-baseline="central" textLength="9.33" lengthAdjust="spacingAndGlyphs">m</text>
<text x="51.88" y="611.7" font-size="20.5" font-family='"Liberation Serif", serif' fill="#161616" dominant-baseline="central" textLength="9.33" lengthAdjust="spacingAndGlyphs">p</text>
<text x="61.50" y="611.7" font-size="20.5" font-family='"Liberation Serif", serif' fill="#161616" dominant-baseline="central" textLength="9.33" lengthAdjust="spacingAndGlyphs">8</text>
<text x="32.64" y="638.9" font-size="20.5" font-family='"Liberation Serif", serif' fill="#161616" dominant-baseline="central" textLength="9.33" lengthAdjust="spacingAndGlyphs">A</text>
<text x="42.26" y="638.9" font-size="20.5" font-family='"Liberation Serif", serif' fill="#161616" dominant-baseline="central" textLength="9.33" lengthAdjust="spacingAndGlyphs">n</text>
<text x="51.88" y="638.9" font-size="20.5" font-family='"Liberation Serif", serif' fill="#161616" dominant-baseline="central" textLength="9.33" lengthAdjust="spacingAndGlyphs">x</text>
<text x="61.62" y="638.9" font-size="20.5" font-family='"Liberation Serif", serif' fill="#161616" dominant-baseline="central" textLength="9.10" lengthAdjust="spacingAndGlyphs">a</text>
<text x="71.12" y="638.9" font-size="20.5" font-family='"Liberation Serif", serif' fill="#161616" dominant-baseline="central" textLength="9.33" lengthAdjust="spacingAndGlyphs">1</text>
<text x="32.64" y="666.0" font-size="20.5" font-family='"Liberation Serif", serif' fill="#161616" dominant-baseline="central" textLength="9.33" lengthAdjust="spacingAndGlyphs">S</text>
<text x="42.26" y="666.0" font-size="20.5" font-family='"Liberation Serif", serif' fill="#161616" dominant-baseline="central" textLength="9.33" lengthAdjust="spacingAndGlyphs">g</text>
<text x="51.88" y="666.0" font-size="20.5" font-family='"Liberation Serif", serif' fill="#161616" dominant-baseline="central" textLength="9.33" lengthAdjust="spacingAndGlyphs">k</text>
<text x="61.50" y="666.0" font-size="20.5" font-family='"Liberation Serif", serif' fill="#161616" dominant-baseline="central" textLength="9.33" lengthAdjust="spacingAndGlyphs">1</text>
<text x="32.64" y="693.2" font-size="20.5" font-family='"Liberation Serif", serif' fill="#161616" dominant-baseline="central" textLength="9.33" lengthAdjust="spacingAndGlyphs">L</text>
<text x="42.26" y="693.2" font-size="20.5" font-family='"Liberation Serif", serif' fill="#161616" dominant-baseline="central" textLength="9.33" lengthAdjust="spacingAndGlyphs">g</text>
<text x="51.88" y="693.2" font-size="20.5" font-family='"Liberation Serif", serif' fill="#161616" dominant-baseline="central" textLength="9.33" lengthAdjust="spacingAndGlyphs">m</text>
<text x="61.50" y="693.2" font-size="20.5" font-family='"Liberation Serif", serif' fill="#161616" dominant-baseline="central" textLength="9.33" lengthAdjust="spacingAndGlyphs">n</text>
<text x="32.64" y="720.4" font-size="20.5" font-family='"Liberation Serif", serif' fill="#161616" dominant-baseline="central" textLength="9.33" lengthAdjust="spacingAndGlyphs">S</text>
<text x="44.08" y="720.4" font-size="20.5" font-family='"Liberation Serif", serif' fill="#161616" dominant-baseline="central" textLength="5.70" lengthAdjust="spacingAndGlyphs">t</text>
<text x="52.00" y="720.4" font-size="20.5" font-family='"Liberation Serif", serif' fill="#161616" dominant-baseline="central" textLength="9.10" lengthAdjust="spacingAndGlyphs">e</text>
<text x="61.62" y="720.4" font-size="20.5" font-family='"Liberation Serif", serif' fill="#161616" dominant-baseline="central" textLength="9.10" lengthAdjust="spacingAndGlyphs">a</text>
<text x="71.12" y="720.4" font-size="20.5" font-family='"Liberation Serif", serif' fill="#161616" dominant-baseline="central" textLength="9.33" lengthAdjust="spacingAndGlyphs">p</text>
<text x="80.74" y="720.4" font-size="20.5" font-family='"Liberation Serif", serif' fill="#161616" dominant-baseline="central" textLength="9.33" lengthAdjust="spacingAndGlyphs">4</text>
<text x="32.64" y="747.6" font-size="20.5" font-family='"Liberation Serif", serif' fill="#161616" dominant-baseline="central" textLength="9.33" lengthAdjust="spacingAndGlyphs">L</text>
<text x="43.52" y="747.6" font-size="20.5" font-family='"Liberation Serif", serif' fill="#161616" dominant-baseline="central" textLength="6.83" lengthAdjust="spacingAndGlyphs">r</text>
<text x="51.88" y="747.6" font-size="20.5" font-family='"Liberation Serif", serif' fill="#161616" dominant-baseline="central" textLength="9.33" lengthAdjust="spacingAndGlyphs">g</text>
<text x="61.50" y="747.6" font-size="20.5" font-family='"Liberation Serif", serif' fill="#161616" dominant-baseline="central" textLength="9.33" lengthAdjust="spacingAndGlyphs">1</text>
<text x="32.64" y="774.8" font-size="20.5" font-family='"Liberation Serif", serif' fill="#161616" dominant-baseline="central" textLength="9.33" lengthAdjust="spacingAndGlyphs">S</text>
<text x="42.26" y="774.8" font-size="20.5" font-family='"Liberation Serif", serif' fill="#161616" dominant-baseline="central" textLength="9.33" lengthAdjust="spacingAndGlyphs">q</text>
<text x="52.56" y="774.8" font-size="20.5" font-family='"Liberation Serif", serif' fill="#161616" dominant-baseline="central" textLength="7.98" lengthAdjust="spacingAndGlyphs">s</text>
<text x="63.32" y="774.8" font-size="20.5" font-family='"Liberation Serif", serif' fill="#161616" dominant-baseline="central" textLength="5.70" lengthAdjust="spacingAndGlyphs">t</text>
<text x="71.12" y="774.8" font-size="20.5" font-family='"Liberation Serif", serif' fill="#161616" dominant-baseline="central" textLength="9.33" lengthAdjust="spacingAndGlyphs">m</text>
<text x="80.74" y="774.8" font-size="20.5" font-family='"Liberation Serif", serif' fill="#161616" dominant-baseline="central" textLength="9.33" lengthAdjust="spacingAndGlyphs">1</text>
<rect x="553.7" y="533.4" width="22.7" height="235.4" rx="4" ry="4" fill="url(#hmcb)"/>
<line x1="158.0" y1="508.0" x2="317.3" y2="508.0" stroke="#333" stroke-width="1.3" />
<line x1="349.5" y1="508.0" x2="508.0" y2="508.0" stroke="#333" stroke-width="1.3" />
<text x="242.3" y="492.8" font-size="24.6" text-anchor="middle" fill="#262626" textLength="61.5" lengthAdjust="spacingAndGlyphs" dominant-baseline="central">MCD</text>
<text x="428.7" y="492.8" font-size="24.6" text-anchor="middle" fill="#262626" textLength="158.5" lengthAdjust="spacingAndGlyphs" dominant-baseline="central">MCD+JPD-H</text>
<rect x="728.7" y="517.5" width="65.5" height="28.0" fill="#687B8F" />
<rect x="793.6" y="517.5" width="65.5" height="28.0" fill="#6D7D8C" />
<rect x="858.5" y="517.5" width="65.5" height="28.0" fill="#6F7E8A" />
<rect x="923.4" y="517.5" width="65.5" height="28.0" fill="#4F6690" />
<rect x="988.3" y="517.5" width="65.5" height="28.0" fill="#4A6090" />
<rect x="1053.2" y="517.5" width="65.5" height="28.0" fill="#4A6090" />
<rect x="728.7" y="544.9" width="65.5" height="28.0" fill="#4E6590" />
<rect x="793.6" y="544.9" width="65.5" height="28.0" fill="#858F87" />
<rect x="858.5" y="544.9" width="65.5" height="28.0" fill="#617490" />
<rect x="923.4" y="544.9" width="65.5" height="28.0" fill="#485E90" />
<rect x="988.3" y="544.9" width="65.5" height="28.0" fill="#4A5F90" />
<rect x="1053.2" y="544.9" width="65.5" height="28.0" fill="#4A5F90" />
<rect x="728.7" y="572.3" width="65.5" height="28.0" fill="#6F808A" />
<rect x="793.6" y="572.3" width="65.5" height="28.0" fill="#6A7B8B" />
<rect x="858.5" y="572.3" width="65.5" height="28.0" fill="#687A8C" />
<rect x="923.4" y="572.3" width="65.5" height="28.0" fill="#485E90" />
<rect x="988.3" y="572.3" width="65.5" height="28.0" fill="#4A5F90" />
<rect x="1053.2" y="572.3" width="65.5" height="28.0" fill="#4A5F90" />
<rect x="728.7" y="599.7" width="65.5" height="28.0" fill="#D90000" />
<rect x="793.6" y="599.7" width="65.5" height="28.0" fill="#E06A40" />
<rect x="858.5" y="599.7" width="65.5" height="28.0" fill="#D93A24" />
<rect x="923.4" y="599.7" width="65.5" height="28.0" fill="#F2D380" />
<rect x="988.3" y="599.7" width="65.5" height="28.0" fill="#F0C478" />
<rect x="1053.2" y="599.7" width="65.5" height="28.0" fill="#E8965A" />
<rect x="728.7" y="627.1" width="65.5" height="28.0" fill="#E05A35" />
<rect x="793.6" y="627.1" width="65.5" height="28.0" fill="#DB4530" />
<rect x="858.5" y="627.1" width="65.5" height="28.0" fill="#E37A4E" />
<rect x="923.4" y="627.1" width="65.5" height="28.0" fill="#EAA465" />
<rect x="988.3" y="627.1" width="65.5" height="28.0" fill="#F0C077" />
<rect x="1053.2" y="627.1" width="65.5" height="28.0" fill="#F2CB7B" />
<rect x="728.7" y="654.5" width="65.5" height="28.0" fill="#D93A24" />
<rect x="793.6" y="654.5" width="65.5" height="28.0" fill="#E06A40" />
<rect x="858.5" y="654.5" width="65.5" height="28.0" fill="#E4844F" />
<rect x="923.4" y="654.5" width="65.5" height="28.0" fill="#F3D683" />
<rect x="988.3" y="654.5" width="65.5" height="28.0" fill="#F0C478" />
<rect x="1053.2" y="654.5" width="65.5" height="28.0" fill="#F0C478" />
<rect x="728.7" y="681.9" width="65.5" height="28.0" fill="#E37A4E" />
<rect x="793.6" y="681.9" width="65.5" height="28.0" fill="#E8965A" />
<rect x="858.5" y="681.9" width="65.5" height="28.0" fill="#E37A4E" />
<rect x="923.4" y="681.9" width="65.5" height="28.0" fill="#F5DC85" />
<rect x="988.3" y="681.9" width="65.5" height="28.0" fill="#B3B48E" />
<rect x="1053.2" y="681.9" width="65.5" height="28.0" fill="#F0C478" />
<rect x="728.7" y="709.3" width="65.5" height="28.0" fill="#EBA564" />
<rect x="793.6" y="709.3" width="65.5" height="28.0" fill="#E37D4F" />
<rect x="858.5" y="709.3" width="65.5" height="28.0" fill="#EBA564" />
<rect x="923.4" y="709.3" width="65.5" height="28.0" fill="#F6DF87" />
<rect x="988.3" y="709.3" width="65.5" height="28.0" fill="#D4CF8E" />
<rect x="1053.2" y="709.3" width="65.5" height="28.0" fill="#F6E489" />
<rect x="728.7" y="736.7" width="65.5" height="28.0" fill="#E1DA8E" />
<rect x="793.6" y="736.7" width="65.5" height="28.0" fill="#F5DE87" />
<rect x="858.5" y="736.7" width="65.5" height="28.0" fill="#F5D985" />
<rect x="923.4" y="736.7" width="65.5" height="28.0" fill="#6A7A8B" />
<rect x="988.3" y="736.7" width="65.5" height="28.0" fill="#9AA08D" />
<rect x="1053.2" y="736.7" width="65.5" height="28.0" fill="#BFBE8C" />
<rect x="728.7" y="764.1" width="65.5" height="28.0" fill="#D3CD8A" />
<rect x="793.6" y="764.1" width="65.5" height="28.0" fill="#F6E689" />
<rect x="858.5" y="764.1" width="65.5" height="28.0" fill="#E2DA8E" />
<rect x="923.4" y="764.1" width="65.5" height="28.0" fill="#A2A78D" />
<rect x="988.3" y="764.1" width="65.5" height="28.0" fill="#72828A" />
<rect x="1053.2" y="764.1" width="65.5" height="28.0" fill="#8A938A" />
<text x="650.64" y="531.2" font-size="20.5" font-family='"Liberation Serif", serif' fill="#161616" dominant-baseline="central" textLength="9.33" lengthAdjust="spacingAndGlyphs">P</text>
<text x="660.26" y="531.2" font-size="20.5" font-family='"Liberation Serif", serif' fill="#161616" dominant-baseline="central" textLength="9.33" lengthAdjust="spacingAndGlyphs">p</text>
<text x="670.00" y="531.2" font-size="20.5" font-family='"Liberation Serif", serif' fill="#161616" dominant-baseline="central" textLength="9.10" lengthAdjust="spacingAndGlyphs">a</text>
<text x="680.76" y="531.2" font-size="20.5" font-family='"Liberation Serif", serif' fill="#161616" dominant-baseline="central" textLength="6.83" lengthAdjust="spacingAndGlyphs">r</text>
<text x="689.12" y="531.2" font-size="20.5" font-family='"Liberation Serif", serif' fill="#161616" dominant-baseline="central" textLength="9.33" lengthAdjust="spacingAndGlyphs">g</text>
<text x="650.64" y="558.6" font-size="20.5" font-family='"Liberation Serif", serif' fill="#161616" dominant-baseline="central" textLength="9.33" lengthAdjust="spacingAndGlyphs">B</text>
<text x="660.26" y="558.6" font-size="20.5" font-family='"Liberation Serif", serif' fill="#161616" dominant-baseline="central" textLength="9.33" lengthAdjust="spacingAndGlyphs">m</text>
<text x="669.88" y="558.6" font-size="20.5" font-family='"Liberation Serif", serif' fill="#161616" dominant-baseline="central" textLength="9.33" lengthAdjust="spacingAndGlyphs">p</text>
<text x="679.50" y="558.6" font-size="20.5" font-family='"Liberation Serif", serif' fill="#161616" dominant-baseline="central" textLength="9.33" lengthAdjust="spacingAndGlyphs">2</text>
<text x="650.64" y="586.0" font-size="20.5" font-family='"Liberation Serif", serif' fill="#161616" dominant-baseline="central" textLength="9.33" lengthAdjust="spacingAndGlyphs">P</text>
<text x="660.26" y="586.0" font-size="20.5" font-family='"Liberation Serif", serif' fill="#161616" dominant-baseline="central" textLength="9.33" lengthAdjust="spacingAndGlyphs">p</text>
<text x="669.88" y="586.0" font-size="20.5" font-family='"Liberation Serif", serif' fill="#161616" dominant-baseline="central" textLength="9.33" lengthAdjust="spacingAndGlyphs">p</text>
<text x="679.50" y="586.0" font-size="20.5" font-family='"Liberation Serif", serif' fill="#161616" dominant-baseline="central" textLength="9.33" lengthAdjust="spacingAndGlyphs">1</text>
<text x="690.38" y="586.0" font-size="20.5" font-family='"Liberation Serif", serif' fill="#161616" dominant-baseline="central" textLength="6.83" lengthAdjust="spacingAndGlyphs">r</text>
<text x="698.74" y="586.0" font-size="20.5" font-family='"Liberation Serif", serif' fill="#161616" dominant-baseline="central" textLength="9.33" lengthAdjust="spacingAndGlyphs">3</text>
<text x="708.36" y="586.0" font-size="20.5" font-family='"Liberation Serif", serif' fill="#161616" dominant-baseline="central" textLength="9.33" lengthAdjust="spacingAndGlyphs">g</text>
<text x="650.64" y="613.4" font-size="20.5" font-family='"Liberation Serif", serif' fill="#161616" dominant-baseline="central" textLength="9.33" lengthAdjust="spacingAndGlyphs">L</text>
<text x="660.26" y="613.4" font-size="20.5" font-family='"Liberation Serif", serif' fill="#161616" dominant-baseline="central" textLength="9.33" lengthAdjust="spacingAndGlyphs">p</text>
<text x="671.70" y="613.4" font-size="20.5" font-family='"Liberation Serif", serif' fill="#161616" dominant-baseline="central" textLength="5.70" lengthAdjust="spacingAndGlyphs">i</text>
<text x="679.50" y="613.4" font-size="20.5" font-family='"Liberation Serif", serif' fill="#161616" dominant-baseline="central" textLength="9.33" lengthAdjust="spacingAndGlyphs">n</text>
<text x="689.12" y="613.4" font-size="20.5" font-family='"Liberation Serif", serif' fill="#161616" dominant-baseline="central" textLength="9.33" lengthAdjust="spacingAndGlyphs">2</text>
<text x="650.64" y="640.8" font-size="20.5" font-family='"Liberation Serif", serif' fill="#161616" dominant-baseline="central" textLength="9.33" lengthAdjust="spacingAndGlyphs">F</text>
<text x="660.26" y="640.8" font-size="20.5" font-family='"Liberation Serif", serif' fill="#161616" dominant-baseline="central" textLength="9.33" lengthAdjust="spacingAndGlyphs">m</text>
<text x="669.88" y="640.8" font-size="20.5" font-family='"Liberation Serif", serif' fill="#161616" dominant-baseline="central" textLength="9.33" lengthAdjust="spacingAndGlyphs">o</text>
<text x="679.50" y="640.8" font-size="20.5" font-family='"Liberation Serif", serif' fill="#161616" dominant-baseline="central" textLength="9.33" lengthAdjust="spacingAndGlyphs">5</text>
<text x="650.64" y="668.2" font-size="20.5" font-family='"Liberation Serif", serif' fill="#161616" dominant-baseline="central" textLength="9.33" lengthAdjust="spacingAndGlyphs">A</text>
<text x="660.38" y="668.2" font-size="20.5" font-family='"Liberation Serif", serif' fill="#161616" dominant-baseline="central" textLength="9.10" lengthAdjust="spacingAndGlyphs">c</text>
<text x="670.00" y="668.2" font-size="20.5" font-family='"Liberation Serif", serif' fill="#161616" dominant-baseline="central" textLength="9.10" lengthAdjust="spacingAndGlyphs">a</text>
<text x="679.62" y="668.2" font-size="20.5" font-family='"Liberation Serif", serif' fill="#161616" dominant-baseline="central" textLength="9.10" lengthAdjust="spacingAndGlyphs">a</text>
<text x="689.12" y="668.2" font-size="20.5" font-family='"Liberation Serif", serif' fill="#161616" dominant-baseline="central" textLength="9.33" lengthAdjust="spacingAndGlyphs">1</text>
<text x="698.74" y="668.2" font-size="20.5" font-family='"Liberation Serif", serif' fill="#161616" dominant-baseline="central" textLength="9.33" lengthAdjust="spacingAndGlyphs">b</text>
<text x="650.64" y="695.6" font-size="20.5" font-family='"Liberation Serif", serif' fill="#161616" dominant-baseline="central" textLength="9.33" lengthAdjust="spacingAndGlyphs">P</text>
<text x="660.26" y="695.6" font-size="20.5" font-family='"Liberation Serif", serif' fill="#161616" dominant-baseline="central" textLength="9.33" lengthAdjust="spacingAndGlyphs">k</text>
<text x="671.70" y="695.6" font-size="20.5" font-family='"Liberation Serif", serif' fill="#161616" dominant-baseline="central" textLength="5.70" lengthAdjust="spacingAndGlyphs">l</text>
<text x="680.76" y="695.6" font-size="20.5" font-family='"Liberation Serif", serif' fill="#161616" dominant-baseline="central" textLength="6.83" lengthAdjust="spacingAndGlyphs">r</text>
<text x="650.64" y="723.0" font-size="20.5" font-family='"Liberation Serif", serif' fill="#161616" dominant-baseline="central" textLength="9.33" lengthAdjust="spacingAndGlyphs">U</text>
<text x="660.26" y="723.0" font-size="20.5" font-family='"Liberation Serif", serif' fill="#161616" dominant-baseline="central" textLength="9.33" lengthAdjust="spacingAndGlyphs">g</text>
<text x="669.88" y="723.0" font-size="20.5" font-family='"Liberation Serif", serif' fill="#161616" dominant-baseline="central" textLength="9.33" lengthAdjust="spacingAndGlyphs">p</text>
<text x="679.50" y="723.0" font-size="20.5" font-family='"Liberation Serif", serif' fill="#161616" dominant-baseline="central" textLength="9.33" lengthAdjust="spacingAndGlyphs">2</text>
<text x="650.64" y="750.4" font-size="20.5" font-family='"Liberation Serif", serif' fill="#161616" dominant-baseline="central" textLength="9.33" lengthAdjust="spacingAndGlyphs">P</text>
<text x="660.38" y="750.4" font-size="20.5" font-family='"Liberation Serif", serif' fill="#161616" dominant-baseline="central" textLength="9.10" lengthAdjust="spacingAndGlyphs">e</text>
<text x="670.00" y="750.4" font-size="20.5" font-family='"Liberation Serif", serif' fill="#161616" dominant-baseline="central" textLength="9.10" lengthAdjust="spacingAndGlyphs">a</text>
<text x="679.50" y="750.4" font-size="20.5" font-family='"Liberation Serif", serif' fill="#161616" dominant-baseline="central" textLength="9.33" lengthAdjust="spacingAndGlyphs">1</text>
<text x="689.12" y="750.4" font-size="20.5" font-family='"Liberation Serif", serif' fill="#161616" dominant-baseline="central" textLength="9.33" lengthAdjust="spacingAndGlyphs">5</text>
<text x="698.86" y="750.4" font-size="20.5" font-family='"Liberation Serif", serif' fill="#161616" dominant-baseline="central" textLength="9.10" lengthAdjust="spacingAndGlyphs">a</text>
<text x="650.64" y="777.8" font-size="20.5" font-family='"Liberation Serif", serif' fill="#161616" dominant-baseline="central" textLength="9.33" lengthAdjust="spacingAndGlyphs">M</text>
<text x="660.38" y="777.8" font-size="20.5" font-family='"Liberation Serif", serif' fill="#161616" dominant-baseline="central" textLength="9.10" lengthAdjust="spacingAndGlyphs">e</text>
<text x="669.88" y="777.8" font-size="20.5" font-family='"Liberation Serif", serif' fill="#161616" dominant-baseline="central" textLength="9.33" lengthAdjust="spacingAndGlyphs">1</text>
<rect x="1140" y="528.4" width="22.8" height="251.2" rx="4" ry="4" fill="url(#hmcb)"/>
<line x1="746.3" y1="505.7" x2="905.8" y2="505.7" stroke="#333" stroke-width="1.3" />
<line x1="937.0" y1="504.3" x2="1096.8" y2="504.3" stroke="#333" stroke-width="1.3" />
<text x="817.4" y="487.3" font-size="24.6" text-anchor="middle" fill="#262626" textLength="61.5" lengthAdjust="spacingAndGlyphs" dominant-baseline="central">MCD</text>
<text x="1018.2" y="487.3" font-size="24.6" text-anchor="middle" fill="#262626" textLength="158.5" lengthAdjust="spacingAndGlyphs" dominant-baseline="central">MCD+JPD-H</text>
<defs><linearGradient id="gr" x1="0" y1="0" x2="0" y2="1"><stop offset="0" stop-color="#DE8E96"/><stop offset="0.45" stop-color="#D2505E"/><stop offset="1" stop-color="#C31C31"/></linearGradient><linearGradient id="gb" x1="0" y1="0" x2="0" y2="1"><stop offset="0" stop-color="#A9B7E6"/><stop offset="0.45" stop-color="#6F87D4"/><stop offset="1" stop-color="#3F5CC0"/></linearGradient></defs>
<text x="7.7" y="879.0" font-size="34.5" font-weight="bold" fill="#2A2627">D</text>
<rect x="468.7" y="914.3" width="33.1" height="15.1" fill="url(#gr)" />
<rect x="468.7" y="941.8" width="33.1" height="13.7" fill="url(#gb)" />
<text x="514.2" y="921.3" font-size="15" fill="#141414" textLength="20.5" lengthAdjust="spacingAndGlyphs" dominant-baseline="central">UP</text>
<text x="514.2" y="950.3" font-size="15" fill="#141414" textLength="46.8" lengthAdjust="spacingAndGlyphs" dominant-baseline="central">DOWN</text>
<rect x="39.3" y="964.7" width="268.4" height="38.3" fill="#fff" stroke="#333" stroke-width="1.4" />
<text x="173.5" y="984.2" font-size="15.6" text-anchor="middle" font-weight="bold" fill="#0a0a0a" textLength="235.0" lengthAdjust="spacingAndGlyphs" dominant-baseline="central">PI3K-Akt SIGNALING PATHWAY</text>
<line x1="144.4" y1="1013.5" x2="143.1" y2="1235.5" stroke="#555" stroke-width="1.5" />
<line x1="178.4" y1="1013.5" x2="177.1" y2="1235.5" stroke="#555" stroke-width="1.5" />
<line x1="94.0" y1="1075.9" x2="119.0" y2="1075.9" stroke="#555" stroke-width="1.5" stroke-dasharray="3.5,2.2"/>
<rect x="17.0" y="1055.7" width="77.0" height="31.8" fill="url(#gr)" />
<text x="55.5" y="1071.2" font-size="15.5" text-anchor="middle" font-weight="bold" fill="#0a0a14" textLength="43.2" lengthAdjust="spacingAndGlyphs" dominant-baseline="central">Thbs1</text>
<rect x="118.8" y="1045.2" width="74.8" height="31.5" fill="url(#gr)" />
<text x="156.2" y="1060.5" font-size="15.5" text-anchor="middle" font-weight="bold" fill="#0a0a14" textLength="44.0" lengthAdjust="spacingAndGlyphs" dominant-baseline="central">Itga2b</text>
<rect x="118.8" y="1076.7" width="74.8" height="32.0" fill="url(#gr)" />
<text x="156.2" y="1092.3" font-size="15.5" text-anchor="middle" font-weight="bold" fill="#0a0a14" textLength="36.5" lengthAdjust="spacingAndGlyphs" dominant-baseline="central">Itgb3</text>
<rect x="118.8" y="1131.3" width="74.8" height="31.7" fill="url(#gr)" />
<text x="156.2" y="1146.8" font-size="15.5" text-anchor="middle" font-weight="bold" fill="#0a0a14" textLength="31.5" lengthAdjust="spacingAndGlyphs" dominant-baseline="central">Il4ra</text>
<rect x="118.8" y="1183.4" width="74.8" height="30.7" fill="url(#gr)" />
<text x="156.2" y="1198.3" font-size="15.5" text-anchor="middle" font-weight="bold" fill="#0a0a14" textLength="37.5" lengthAdjust="spacingAndGlyphs" dominant-baseline="central">Lpar6</text>
<text x="223.6" y="1029.3" font-size="15.5" fill="#141414" textLength="55.3" lengthAdjust="spacingAndGlyphs" dominant-baseline="central">Hypoxia</text>
<line x1="282.0" y1="1030.3" x2="314.0" y2="1030.3" stroke="#555" stroke-width="1.8" />
<path d="M325.5,1030.3 L313.0,1035.5 L313.0,1025.1 Z" fill="#555" />
<rect x="329.0" y="1015.0" width="74.6" height="30.6" fill="url(#gb)" />
<text x="366.3" y="1029.9" font-size="15.5" text-anchor="middle" font-weight="bold" fill="#0a0a14" textLength="38.3" lengthAdjust="spacingAndGlyphs" dominant-baseline="central">Ddit4</text>
<line x1="403.6" y1="1030.3" x2="423.5" y2="1030.3" stroke="#555" stroke-width="1.8" />
<path d="M435.0,1030.3 L422.5,1035.5 L422.5,1025.1 Z" fill="#555" />
<text x="450.0" y="1030.5" font-size="15.5" fill="#141414" textLength="48.5" lengthAdjust="spacingAndGlyphs" dominant-baseline="central">Protein</text>
<text x="450.0" y="1049.5" font-size="15.5" fill="#141414" textLength="63.5" lengthAdjust="spacingAndGlyphs" dominant-baseline="central">synthesis</text>
<rect x="329.0" y="1056.7" width="73.6" height="31.4" fill="url(#gb)" />
<text x="365.8" y="1072.0" font-size="15.5" text-anchor="middle" font-weight="bold" fill="#0a0a14" textLength="35.0" lengthAdjust="spacingAndGlyphs" dominant-baseline="central">Sgk1</text>
<rect x="329.0" y="1088.1" width="73.6" height="31.1" fill="url(#gb)" />
<text x="365.8" y="1103.2" font-size="15.5" text-anchor="middle" font-weight="bold" fill="#0a0a14" textLength="36.0" lengthAdjust="spacingAndGlyphs" dominant-baseline="central">Sgk2</text>
<text x="264.5" y="1136.2" font-size="15.5" fill="#141414" textLength="32.7" lengthAdjust="spacingAndGlyphs" dominant-baseline="central">PI3K</text>
<text x="335.8" y="1136.2" font-size="15.5" fill="#141414" textLength="29.2" lengthAdjust="spacingAndGlyphs" dominant-baseline="central">AKT</text>
<text x="405.9" y="1136.2" font-size="15.5" fill="#141414" textLength="37.6" lengthAdjust="spacingAndGlyphs" dominant-baseline="central">NFκB</text>
<rect x="475.3" y="1120.9" width="74.0" height="31.1" fill="url(#gr)" />
<text x="512.3" y="1136.0" font-size="15.5" text-anchor="middle" font-weight="bold" fill="#0a0a14" textLength="29.5" lengthAdjust="spacingAndGlyphs" dominant-baseline="central">Myb</text>
<rect x="329.0" y="1181.4" width="73.6" height="31.1" fill="url(#gb)" />
<text x="365.8" y="1196.5" font-size="15.5" text-anchor="middle" font-weight="bold" fill="#0a0a14" textLength="45.5" lengthAdjust="spacingAndGlyphs" dominant-baseline="central">Ccnd1</text>
<line x1="194.0" y1="1077.3" x2="253.6" y2="1111.8" stroke="#555" stroke-width="1.8" />
<path d="M263.5,1117.6 L250.1,1115.8 L255.3,1106.8 Z" fill="#555" />
<line x1="194.0" y1="1147.0" x2="247.4" y2="1138.4" stroke="#555" stroke-width="1.8" />
<path d="M258.8,1136.6 L247.3,1143.7 L245.6,1133.4 Z" fill="#555" />
<line x1="194.0" y1="1198.4" x2="254.8" y2="1159.5" stroke="#555" stroke-width="1.8" />
<path d="M264.5,1153.3 L256.8,1164.4 L251.2,1155.7 Z" fill="#555" />
<line x1="298.5" y1="1134.6" x2="323.0" y2="1098.5" stroke="#555" stroke-width="1.8" />
<path d="M329.5,1089.0 L326.8,1102.3 L318.2,1096.4 Z" fill="#555" />
<line x1="303.8" y1="1136.2" x2="322.0" y2="1136.2" stroke="#555" stroke-width="1.8" />
<path d="M333.5,1136.2 L321.0,1141.4 L321.0,1131.0 Z" fill="#555" />
<line x1="372.2" y1="1136.2" x2="390.0" y2="1136.2" stroke="#555" stroke-width="1.8" />
<path d="M401.5,1136.2 L389.0,1141.4 L389.0,1131.0 Z" fill="#555" />
<line x1="445.8" y1="1136.2" x2="463.5" y2="1136.2" stroke="#555" stroke-width="1.8" />
<path d="M475.0,1136.2 L462.5,1141.4 L462.5,1131.0 Z" fill="#555" />
<line x1="355.2" y1="1149.3" x2="355.2" y2="1167.5" stroke="#555" stroke-width="1.8" />
<path d="M355.2,1179.0 L350.0,1166.5 L360.4,1166.5 Z" fill="#555" />
<path d="M16.4,1215.8 L16.4,1234.5 Q16.4,1238.7 20.6,1238.7 L545.7,1238.7 Q549.9,1238.7 549.9,1234.5 L549.9,1215.8" fill="none" stroke="#555" stroke-width="1.7" />
<text x="273.8" y="1258.4" font-size="25.2" text-anchor="middle" fill="#262324" textLength="158.0" lengthAdjust="spacingAndGlyphs" dominant-baseline="central">MCD+JPD-H</text>
<rect x="1131.0" y="913.7" width="33.0" height="15.8" fill="url(#gr)" />
<rect x="1131.0" y="941.3" width="33.0" height="13.9" fill="url(#gb)" />
<text x="1176.2" y="920.5" font-size="15" fill="#141414" textLength="20.5" lengthAdjust="spacingAndGlyphs" dominant-baseline="central">UP</text>
<text x="1176.2" y="949.7" font-size="15" fill="#141414" textLength="46.8" lengthAdjust="spacingAndGlyphs" dominant-baseline="central">DOWN</text>
<rect x="613.8" y="943.0" width="233.0" height="35.3" fill="#fff" stroke="#333" stroke-width="1.4" />
<text x="730.3" y="960.4" font-size="15.2" text-anchor="middle" font-weight="bold" fill="#0a0a0a" textLength="199.5" lengthAdjust="spacingAndGlyphs" dominant-baseline="central">PPAR SIGNALING PATHWAY</text>
<line x1="700.0" y1="993.0" x2="698.5" y2="1224.8" stroke="#555" stroke-width="1.5" />
<line x1="732.0" y1="993.0" x2="730.5" y2="1226.0" stroke="#555" stroke-width="1.5" />
<text x="608.3" y="1007.3" font-size="15" fill="#141414" textLength="35.5" lengthAdjust="spacingAndGlyphs" dominant-baseline="central">VLDL</text>
<text x="608.3" y="1025.0" font-size="15" fill="#141414" textLength="79.3" lengthAdjust="spacingAndGlyphs" dominant-baseline="central">Chylomicron</text>
<line x1="663.4" y1="1015.0" x2="746.6" y2="1015.0" stroke="#555" stroke-width="1.4" stroke-dasharray="4,2.6"/>
<rect x="746.6" y="1001.8" width="68.3" height="28.6" fill="url(#gb)" />
<text x="780.8" y="1015.7" font-size="15.5" text-anchor="middle" font-weight="bold" fill="#0a0a14" textLength="38.5" lengthAdjust="spacingAndGlyphs" dominant-baseline="central">FABP</text>
<line x1="814.9" y1="1015.0" x2="883.5" y2="1015.0" stroke="#555" stroke-width="1.4" stroke-dasharray="4,2.6"/>
<text x="887.9" y="1016.5" font-size="15" font-weight="bold" fill="#111" textLength="48.0" lengthAdjust="spacingAndGlyphs" dominant-baseline="central">PPARα</text>
<line x1="942.2" y1="1014.0" x2="962.7" y2="988.7" stroke="#555" stroke-width="1.8" />
<path d="M970.0,979.8 L966.2,992.8 L958.1,986.2 Z" fill="#555" />
<rect x="971.5" y="945.0" width="59.8" height="28.5" fill="url(#gb)" />
<text x="1001.4" y="958.9" font-size="15.5" text-anchor="middle" font-weight="bold" fill="#0a0a14" textLength="27.5" lengthAdjust="spacingAndGlyphs" dominant-baseline="central">Me1</text>
<text x="1044.9" y="962.5" font-size="15" fill="#141414" textLength="76.5" lengthAdjust="spacingAndGlyphs" dominant-baseline="central">Lipogenesis</text>
<rect x="975.2" y="986.4" width="58.7" height="29.3" fill="url(#gb)" />
<text x="1004.6" y="1000.6" font-size="15.5" text-anchor="middle" font-weight="bold" fill="#0a0a14" textLength="34.0" lengthAdjust="spacingAndGlyphs" dominant-baseline="central">Plin5</text>
<text x="1042.3" y="996.7" font-size="15" fill="#141414" textLength="66.5" lengthAdjust="spacingAndGlyphs" dominant-baseline="central">Adipocyte</text>
<text x="1042.3" y="1013.9" font-size="15" fill="#141414" textLength="86.5" lengthAdjust="spacingAndGlyphs" dominant-baseline="central">differentiation</text>
<line x1="834.7" y1="1015.0" x2="834.7" y2="1214.6" stroke="#555" stroke-width="1.4" stroke-dasharray="4,2.6"/>
<line x1="834.7" y1="1103.8" x2="865.9" y2="1103.8" stroke="#555" stroke-width="1.4" stroke-dasharray="4,2.6"/>
<text x="879.0" y="1103.8" font-size="15" font-weight="bold" fill="#111" textLength="61.3" lengthAdjust="spacingAndGlyphs" dominant-baseline="central">PPARβ/δ</text>
<line x1="953.9" y1="1103.8" x2="1001.5" y2="1103.8" stroke="#555" stroke-width="1.8" />
<path d="M1013.0,1103.8 L1000.5,1109.0 L1000.5,1098.6 Z" fill="#555" />
<path d="M1031.3,1043.2 L1025,1043.2 Q1022.9,1043.2 1022.9,1045.5 L1022.9,1155.4 Q1022.9,1157.7 1025,1157.7 L1031.3,1157.7" fill="none" stroke="#555" stroke-width="1.4" />
<text x="1035.7" y="1045.8" font-size="15" fill="#141414" textLength="122.2" lengthAdjust="spacingAndGlyphs" dominant-baseline="central">Fatty acid transport</text>
<rect x="1030.2" y="1056.8" width="69.7" height="29.4" fill="url(#gb)" />
<text x="1065.1" y="1071.1" font-size="15.5" text-anchor="middle" font-weight="bold" fill="#0a0a14" textLength="41.5" lengthAdjust="spacingAndGlyphs" dominant-baseline="central">Acs14</text>
<rect x="1114.6" y="1056.8" width="48.4" height="29.4" fill="url(#gb)" />
<text x="1138.8" y="1071.1" font-size="15.5" text-anchor="middle" font-weight="bold" fill="#0a0a14" textLength="20.5" lengthAdjust="spacingAndGlyphs" dominant-baseline="central">Lpl</text>
<text x="1038.6" y="1111.1" font-size="15" fill="#141414" textLength="122.9" lengthAdjust="spacingAndGlyphs" dominant-baseline="central">Fatty acid oxidation</text>
<rect x="1048.5" y="1121.4" width="89.9" height="29.3" fill="url(#gr)" />
<text x="1093.5" y="1135.7" font-size="15.5" text-anchor="middle" font-weight="bold" fill="#0a0a14" textLength="63.5" lengthAdjust="spacingAndGlyphs" dominant-baseline="central">CYP4A32</text>
<rect x="1048.5" y="1158.0" width="89.9" height="30.1" fill="url(#gb)" />
<text x="1093.5" y="1172.6" font-size="15.5" text-anchor="middle" font-weight="bold" fill="#0a0a14" textLength="63.5" lengthAdjust="spacingAndGlyphs" dominant-baseline="central">CYP4A14</text>
<line x1="834.7" y1="1214.6" x2="865.9" y2="1214.6" stroke="#555" stroke-width="1.4" stroke-dasharray="4,2.6"/>
<rect x="865.9" y="1200.2" width="73.7" height="29.0" fill="url(#gb)" />
<text x="902.8" y="1214.3" font-size="15.5" text-anchor="middle" font-weight="bold" fill="#0a0a14" textLength="46.0" lengthAdjust="spacingAndGlyphs" dominant-baseline="central">PPARγ</text>
<line x1="939.6" y1="1214.6" x2="991.0" y2="1214.6" stroke="#555" stroke-width="1.8" />
<path d="M1002.5,1214.6 L990.0,1219.8 L990.0,1209.4 Z" fill="#555" />
<rect x="1003.4" y="1200.2" width="89.2" height="29.0" fill="url(#gb)" />
<text x="1048.0" y="1214.3" font-size="15.5" text-anchor="middle" font-weight="bold" fill="#0a0a14" textLength="50.0" lengthAdjust="spacingAndGlyphs" dominant-baseline="central">Acaa1b</text>
<path d="M614.6,1212 L614.6,1234.6 Q614.6,1238.8 618.8,1238.8 L1159.9,1238.8 Q1164.1,1238.8 1164.1,1234.6 L1164.1,1212" fill="none" stroke="#555" stroke-width="1.7" />
<text x="892.6" y="1258.8" font-size="25.2" text-anchor="middle" fill="#262324" textLength="158.0" lengthAdjust="spacingAndGlyphs" dominant-baseline="central">MCD+JPD-H</text>
<defs><filter id="bl1" x="-50%" y="-50%" width="200%" height="200%"><feGaussianBlur stdDeviation="1.2"/></filter><filter id="bl2" x="-50%" y="-50%" width="200%" height="200%"><feGaussianBlur stdDeviation="2.5"/></filter><filter id="bl05" x="-50%" y="-50%" width="200%" height="200%"><feGaussianBlur stdDeviation="0.6"/></filter><filter id="mot" x="0" y="0" width="100%" height="100%"><feTurbulence type="fractalNoise" baseFrequency="0.11" numOctaves="2" seed="7" result="n"/><feColorMatrix in="n" type="matrix" values="0 0 0 0 0 0 0 0 0 0 0 0 0 0 0 4.5 0 0 0 -1.9" result="a"/><feComposite in="SourceGraphic" in2="a" operator="in"/><feGaussianBlur stdDeviation="0.5"/></filter><clipPath id="cF1"><rect x="87.5" y="1395.2" width="264.1" height="212.7"/></clipPath><clipPath id="cF2"><rect x="358.3" y="1395.4" width="264.2" height="212.3"/></clipPath><clipPath id="cF3"><rect x="629.5" y="1395.3" width="264.5" height="212.2"/></clipPath><clipPath id="cF4"><rect x="901.0" y="1395.4" width="264.0" height="212.2"/></clipPath></defs>
<text x="-0.6" y="1352.5" font-size="34.5" font-weight="bold" fill="#2A2627">F</text>
<text x="66.5" y="1496.0" font-size="24" text-anchor="middle" font-weight="bold" fill="#E0141E" textLength="45.0" lengthAdjust="spacingAndGlyphs" transform="rotate(-90 66.5 1496.0)" dominant-baseline="central">ROS</text>
<rect x="87.5" y="1395.2" width="264.1" height="212.7" fill="#0F0E13" />
<rect x="358.3" y="1395.4" width="264.2" height="212.3" fill="#0A0D12" />
<rect x="629.5" y="1395.3" width="264.5" height="212.2" fill="#0A0D12" />
<rect x="901.0" y="1395.4" width="264.0" height="212.2" fill="#0A0D12" />
<g clip-path="url(#cF1)">
<ellipse cx="203" cy="1448.5" rx="17" ry="14.5" fill="#220A12" transform="rotate(-20 203 1448.5)" filter="url(#bl1)"/>
<ellipse cx="203" cy="1448.5" rx="16" ry="13.5" fill="#3E0B18" transform="rotate(-20 203 1448.5)" filter="url(#mot)"/>
<ellipse cx="306.5" cy="1501" rx="17" ry="14.5" fill="#220A12" transform="rotate(-10 306.5 1501)" filter="url(#bl1)"/>
<ellipse cx="306.5" cy="1501" rx="16" ry="13.5" fill="#3E0B18" transform="rotate(-10 306.5 1501)" filter="url(#mot)"/>
<ellipse cx="211.5" cy="1548.5" rx="15.5" ry="19.5" fill="#220A12" transform="rotate(-10 211.5 1548.5)" filter="url(#bl1)"/>
<ellipse cx="211.5" cy="1548.5" rx="14.5" ry="18.5" fill="#3E0B18" transform="rotate(-10 211.5 1548.5)" filter="url(#mot)"/>
<ellipse cx="94" cy="1588" rx="3" ry="4" fill="#2A0A10" filter="url(#bl1)"/>
</g>
<g clip-path="url(#cF2)">
<path d="M423.6,1459.3 C425.1,1457.0 430.4,1453.4 434.2,1452.5 C438.0,1451.6 441.8,1455.0 446.4,1454.0 C451.0,1453.0 455.3,1447.7 461.7,1446.4 C468.1,1445.1 478.1,1447.4 484.5,1446.4 C490.9,1445.4 495.7,1441.6 499.8,1440.3 C503.9,1439.0 506.6,1437.0 508.9,1438.8 C511.2,1440.6 511.2,1447.2 513.5,1451.0 C515.8,1454.8 520.7,1458.8 522.6,1461.6 C524.5,1464.4 525.7,1464.4 524.9,1467.7 C524.1,1471.0 520.9,1477.1 518.0,1481.4 C515.1,1485.7 510.9,1490.5 507.4,1493.6 C503.8,1496.6 499.8,1497.9 496.7,1499.7 C493.6,1501.5 491.1,1502.3 489.1,1504.3 C487.1,1506.3 485.0,1508.1 484.5,1511.9 C484.0,1515.7 484.7,1522.8 486.0,1527.1 C487.3,1531.4 491.6,1535.5 492.1,1537.8 C492.6,1540.1 490.9,1541.3 489.1,1540.8 C487.3,1540.3 484.6,1534.8 481.5,1534.8 C478.4,1534.8 473.1,1538.0 470.8,1540.8 C468.5,1543.6 469.8,1548.2 467.8,1551.5 C465.8,1554.8 461.9,1559.7 458.6,1560.7 C455.3,1561.7 450.0,1559.4 448.0,1557.6 C446.0,1555.8 448.9,1553.0 446.4,1550.0 C443.8,1547.0 435.8,1543.1 432.7,1539.3 C429.6,1535.5 430.3,1530.0 428.1,1527.1 C425.9,1524.2 420.7,1523.8 419.5,1522.0 C418.3,1520.2 421.2,1518.7 421.0,1516.0 C420.8,1513.3 418.5,1510.3 418.2,1505.8 C417.9,1501.3 417.6,1493.6 419.0,1489.0 C420.4,1484.4 425.6,1482.2 426.6,1478.4 C427.6,1474.6 425.6,1469.4 425.1,1466.2 C424.6,1463.0 422.1,1461.6 423.6,1459.3 Z" fill="#5A0606" filter="url(#bl1)"/>
<path d="M419.0,1487.5 C420.4,1483.2 423.1,1480.9 426.6,1479.9 C430.2,1478.9 436.0,1480.2 440.3,1481.4 C444.6,1482.7 450.0,1484.5 452.5,1487.5 C455.1,1490.6 455.6,1495.6 455.6,1499.7 C455.6,1503.8 454.0,1508.3 452.5,1511.9 C451.0,1515.5 449.5,1519.0 446.4,1521.0 C443.4,1523.1 438.0,1524.3 434.2,1524.1 C430.4,1523.8 426.2,1522.6 423.6,1519.5 C420.9,1516.5 419.0,1511.1 418.2,1505.8 C417.5,1500.5 417.6,1491.8 419.0,1487.5 Z" fill="#E80C0C" filter="url(#bl1)"/>
<path d="M451.0,1490.6 C452.5,1487.0 458.1,1486.8 461.7,1487.5 C465.2,1488.3 470.0,1491.1 472.3,1495.1 C474.6,1499.2 475.4,1506.6 475.4,1511.9 C475.4,1517.2 473.1,1522.3 472.3,1527.1 C471.6,1532.0 471.6,1536.5 470.8,1540.8 C470.0,1545.2 469.8,1549.7 467.8,1553.0 C465.7,1556.3 461.9,1559.9 458.6,1560.7 C455.3,1561.4 450.0,1559.6 447.9,1557.6 C445.9,1555.6 447.2,1552.0 446.4,1548.5 C445.7,1544.9 443.4,1540.8 443.4,1536.3 C443.4,1531.7 444.9,1525.6 446.4,1521.0 C447.9,1516.5 451.8,1513.9 452.5,1508.8 C453.3,1503.8 449.5,1494.1 451.0,1490.6 Z" fill="#E60A0A" filter="url(#bl1)"/>
<path d="M487.6,1460.1 C489.6,1457.8 494.0,1457.6 496.7,1458.6 C499.4,1459.6 502.5,1462.4 503.6,1466.2 C504.6,1470.0 503.6,1476.9 502.8,1481.4 C502.0,1486.0 500.8,1491.1 499.0,1493.6 C497.2,1496.2 494.3,1497.7 492.1,1496.7 C490.0,1495.6 487.3,1491.6 486.0,1487.5 C484.8,1483.5 484.3,1476.9 484.5,1472.3 C484.8,1467.7 485.5,1462.4 487.6,1460.1 Z" fill="#EE1010" filter="url(#bl1)"/>
<path d="M424.3,1458.6 C425.3,1455.8 431.6,1453.0 434.2,1452.5 C436.9,1452.0 439.4,1453.2 440.3,1455.5 C441.2,1457.8 440.6,1463.9 439.6,1466.2 C438.5,1468.5 436.1,1468.7 434.2,1469.2 C432.3,1469.7 429.8,1471.0 428.1,1469.2 C426.5,1467.5 423.3,1461.4 424.3,1458.6 Z" fill="#D80808" filter="url(#bl1)"/>
<path d="M446.4,1455.5 C448.5,1452.7 454.0,1449.2 458.6,1447.9 C463.2,1446.6 469.3,1447.4 473.8,1447.9 C478.4,1448.4 483.5,1448.7 486.0,1450.9 C488.6,1453.2 489.6,1457.6 489.1,1461.6 C488.6,1465.7 485.5,1472.0 483.0,1475.3 C480.5,1478.6 477.4,1481.4 473.8,1481.4 C470.3,1481.4 465.2,1476.9 461.7,1475.3 C458.1,1473.8 455.1,1474.1 452.5,1472.3 C450.0,1470.5 447.4,1467.5 446.4,1464.7 C445.4,1461.9 444.4,1458.3 446.4,1455.5 Z" fill="#C00808" filter="url(#bl1)"/>
<path d="M498.2,1441.8 C499.1,1439.3 503.6,1438.5 505.8,1438.8 C508.1,1439.0 510.7,1440.8 511.9,1443.3 C513.2,1445.9 514.2,1451.7 513.5,1454.0 C512.7,1456.3 509.5,1457.0 507.4,1457.0 C505.2,1457.0 502.0,1456.5 500.5,1454.0 C499.0,1451.5 497.3,1444.3 498.2,1441.8 Z" fill="#B00606" filter="url(#bl1)"/>
<path d="M507.4,1460.1 C510.2,1457.8 518.3,1460.1 521.1,1461.6 C523.9,1463.1 524.9,1465.9 524.1,1469.2 C523.4,1472.5 519.3,1478.9 516.5,1481.4 C513.7,1484.0 509.4,1485.5 507.4,1484.5 C505.3,1483.5 504.3,1479.4 504.3,1475.3 C504.3,1471.3 504.6,1462.4 507.4,1460.1 Z" fill="#8A0606" filter="url(#bl1)"/>
<path d="M434.2,1524.1 C436.5,1522.1 443.4,1521.0 446.4,1522.6 C449.5,1524.1 452.0,1529.9 452.5,1533.2 C453.0,1536.5 451.5,1541.1 449.5,1542.4 C447.4,1543.6 443.1,1542.1 440.3,1540.8 C437.5,1539.6 433.7,1537.5 432.7,1534.8 C431.7,1532.0 431.9,1526.1 434.2,1524.1 Z" fill="#C80808" filter="url(#bl1)"/>
<path d="M476.9,1499.7 C478.7,1498.2 484.0,1497.7 486.0,1499.7 C488.1,1501.7 489.3,1508.3 489.1,1511.9 C488.8,1515.5 486.5,1519.8 484.5,1521.0 C482.5,1522.3 478.4,1521.5 476.9,1519.5 C475.4,1517.5 475.4,1512.1 475.4,1508.8 C475.4,1505.5 475.1,1501.2 476.9,1499.7 Z" fill="#C00808" filter="url(#bl1)"/>
<ellipse cx="446.4" cy="1469.2" rx="6.9" ry="4.6" fill="#3A0404" opacity="0.8" filter="url(#bl1)"/>
<ellipse cx="461.7" cy="1461.6" rx="5.3" ry="3.8" fill="#3A0404" opacity="0.8" filter="url(#bl1)"/>
<ellipse cx="434.2" cy="1481.4" rx="4.6" ry="6.1" fill="#3A0404" opacity="0.8" filter="url(#bl1)"/>
<ellipse cx="444.9" cy="1496.7" rx="5.3" ry="3.8" fill="#3A0404" opacity="0.8" filter="url(#bl1)"/>
<ellipse cx="476.9" cy="1489.0" rx="4.6" ry="3.4" fill="#3A0404" opacity="0.8" filter="url(#bl1)"/>
<ellipse cx="505.8" cy="1487.5" rx="5.3" ry="4.6" fill="#3A0404" opacity="0.8" filter="url(#bl1)"/>
<ellipse cx="464.7" cy="1507.3" rx="3.4" ry="2.7" fill="#3A0404" opacity="0.8" filter="url(#bl1)"/>
<ellipse cx="428.1" cy="1510.4" rx="3.8" ry="3.0" fill="#3A0404" opacity="0.8" filter="url(#bl1)"/>
<ellipse cx="440.3" cy="1531.7" rx="4.6" ry="3.8" fill="#3A0404" opacity="0.8" filter="url(#bl1)"/>
<ellipse cx="475.4" cy="1524.1" rx="3.8" ry="4.6" fill="#3A0404" opacity="0.8" filter="url(#bl1)"/>
<ellipse cx="516.5" cy="1470.8" rx="2.3" ry="2.3" fill="#3A0404" opacity="0.8" filter="url(#bl1)"/>
<ellipse cx="452.5" cy="1481.4" rx="3.8" ry="3.0" fill="#3A0404" opacity="0.8" filter="url(#bl1)"/>
<path d="M423.6,1459.3 C425.1,1457.0 430.4,1453.4 434.2,1452.5 C438.0,1451.6 441.8,1455.0 446.4,1454.0 C451.0,1453.0 455.3,1447.7 461.7,1446.4 C468.1,1445.1 478.1,1447.4 484.5,1446.4 C490.9,1445.4 495.7,1441.6 499.8,1440.3 C503.9,1439.0 506.6,1437.0 508.9,1438.8 C511.2,1440.6 511.2,1447.2 513.5,1451.0 C515.8,1454.8 520.7,1458.8 522.6,1461.6 C524.5,1464.4 525.7,1464.4 524.9,1467.7 C524.1,1471.0 520.9,1477.1 518.0,1481.4 C515.1,1485.7 510.9,1490.5 507.4,1493.6 C503.8,1496.6 499.8,1497.9 496.7,1499.7 C493.6,1501.5 491.1,1502.3 489.1,1504.3 C487.1,1506.3 485.0,1508.1 484.5,1511.9 C484.0,1515.7 484.7,1522.8 486.0,1527.1 C487.3,1531.4 491.6,1535.5 492.1,1537.8 C492.6,1540.1 490.9,1541.3 489.1,1540.8 C487.3,1540.3 484.6,1534.8 481.5,1534.8 C478.4,1534.8 473.1,1538.0 470.8,1540.8 C468.5,1543.6 469.8,1548.2 467.8,1551.5 C465.8,1554.8 461.9,1559.7 458.6,1560.7 C455.3,1561.7 450.0,1559.4 448.0,1557.6 C446.0,1555.8 448.9,1553.0 446.4,1550.0 C443.8,1547.0 435.8,1543.1 432.7,1539.3 C429.6,1535.5 430.3,1530.0 428.1,1527.1 C425.9,1524.2 420.7,1523.8 419.5,1522.0 C418.3,1520.2 421.2,1518.7 421.0,1516.0 C420.8,1513.3 418.5,1510.3 418.2,1505.8 C417.9,1501.3 417.6,1493.6 419.0,1489.0 C420.4,1484.4 425.6,1482.2 426.6,1478.4 C427.6,1474.6 425.6,1469.4 425.1,1466.2 C424.6,1463.0 422.1,1461.6 423.6,1459.3 Z" fill="#380404" filter="url(#mot)" opacity="0.6"/>
<path d="M451.0,1490.6 C452.5,1487.0 458.1,1486.8 461.7,1487.5 C465.2,1488.3 470.0,1491.1 472.3,1495.1 C474.6,1499.2 475.4,1506.6 475.4,1511.9 C475.4,1517.2 473.1,1522.3 472.3,1527.1 C471.6,1532.0 471.6,1536.5 470.8,1540.8 C470.0,1545.2 469.8,1549.7 467.8,1553.0 C465.7,1556.3 461.9,1559.9 458.6,1560.7 C455.3,1561.4 450.0,1559.6 447.9,1557.6 C445.9,1555.6 447.2,1552.0 446.4,1548.5 C445.7,1544.9 443.4,1540.8 443.4,1536.3 C443.4,1531.7 444.9,1525.6 446.4,1521.0 C447.9,1516.5 451.8,1513.9 452.5,1508.8 C453.3,1503.8 449.5,1494.1 451.0,1490.6 Z" fill="#E80C0C" opacity="0.55" filter="url(#bl2)"/>
<path d="M487.6,1460.1 C489.6,1457.8 494.0,1457.6 496.7,1458.6 C499.4,1459.6 502.5,1462.4 503.6,1466.2 C504.6,1470.0 503.6,1476.9 502.8,1481.4 C502.0,1486.0 500.8,1491.1 499.0,1493.6 C497.2,1496.2 494.3,1497.7 492.1,1496.7 C490.0,1495.6 487.3,1491.6 486.0,1487.5 C484.8,1483.5 484.3,1476.9 484.5,1472.3 C484.8,1467.7 485.5,1462.4 487.6,1460.1 Z" fill="#E80C0C" opacity="0.55" filter="url(#bl2)"/>
<path d="M483.0,1524.1 Q492.1,1527.1 491.4,1539.3" stroke="#D00808" stroke-width="1.8" fill="none" filter="url(#bl05)"/>
<circle cx="482.5" cy="1572.5" r="1.2" fill="#C00000"/>
</g>
<g clip-path="url(#cF3)">
<ellipse cx="747" cy="1448.5" rx="17" ry="15" fill="#220A12" transform="rotate(-15 747 1448.5)" filter="url(#bl1)"/>
<ellipse cx="747" cy="1448.5" rx="16" ry="14" fill="#3E0B18" transform="rotate(-15 747 1448.5)" filter="url(#mot)"/>
<ellipse cx="753.5" cy="1548.5" rx="13.5" ry="17" fill="#220A12" transform="rotate(0 753.5 1548.5)" filter="url(#bl1)"/>
<ellipse cx="753.5" cy="1548.5" rx="12.5" ry="16" fill="#3E0B18" transform="rotate(0 753.5 1548.5)" filter="url(#mot)"/>
<ellipse cx="788" cy="1533" rx="5" ry="13" fill="#220A12" transform="rotate(-25 788 1533)" filter="url(#bl1)"/>
<ellipse cx="788" cy="1533" rx="4" ry="12" fill="#3E0B18" transform="rotate(-25 788 1533)" filter="url(#mot)"/>
<ellipse cx="808" cy="1537" rx="6" ry="12" fill="#220A12" transform="rotate(30 808 1537)" filter="url(#bl1)"/>
<ellipse cx="808" cy="1537" rx="5" ry="11" fill="#3E0B18" transform="rotate(30 808 1537)" filter="url(#mot)"/>
<ellipse cx="799" cy="1558" rx="9" ry="10" fill="#220A12" transform="rotate(20 799 1558)" filter="url(#bl1)"/>
<ellipse cx="799" cy="1558" rx="8" ry="9" fill="#3E0B18" transform="rotate(20 799 1558)" filter="url(#mot)"/>
<ellipse cx="818" cy="1530" rx="6" ry="5" fill="#220A12" transform="rotate(0 818 1530)" filter="url(#bl1)"/>
<ellipse cx="818" cy="1530" rx="5" ry="4" fill="#3E0B18" transform="rotate(0 818 1530)" filter="url(#mot)"/>
<ellipse cx="652" cy="1600" rx="3" ry="6" fill="#2A0A10" filter="url(#bl1)"/>
</g>
<g clip-path="url(#cF4)">
<path d="M917.0,1396.1 C919.5,1394.1 932.5,1394.1 935.3,1396.1 C938.1,1398.1 934.3,1404.2 933.8,1408.3 C933.3,1412.3 931.6,1416.9 932.3,1420.5 C932.9,1424.0 935.7,1427.1 937.6,1429.6 C939.5,1432.2 944.0,1434.9 943.7,1435.7 C943.5,1436.5 939.1,1434.9 936.1,1434.2 C933.0,1433.4 929.0,1431.8 925.4,1431.1 C921.9,1430.5 915.8,1432.2 914.8,1430.4 C913.7,1428.6 918.3,1424.2 919.3,1420.5 C920.3,1416.8 921.2,1412.3 920.9,1408.3 C920.5,1404.2 914.6,1398.1 917.0,1396.1 Z" fill="#260508" opacity="0.9"/>
<path d="M942.2,1435.7 C943.2,1434.9 946.5,1435.7 949.8,1435.4 C953.1,1435.2 958.4,1434.5 962.0,1434.2 C965.6,1433.9 968.9,1433.2 971.1,1433.4 C973.4,1433.7 974.2,1433.3 975.7,1435.7 C977.2,1438.1 978.6,1443.6 980.3,1447.9 C981.9,1452.2 984.3,1457.6 985.6,1461.6 C986.9,1465.7 988.3,1469.6 988.2,1472.3 C988.1,1474.9 986.3,1476.5 985.2,1477.6 C984.0,1478.8 982.9,1479.8 981.0,1479.1 C979.2,1478.5 976.9,1476.2 974.2,1473.8 C971.5,1471.4 968.1,1468.0 965.0,1464.7 C962.0,1461.4 958.7,1457.3 955.9,1454.0 C953.1,1450.7 950.3,1447.1 948.3,1444.9 C946.3,1442.6 944.7,1441.8 943.7,1440.3 C942.7,1438.8 941.2,1436.5 942.2,1435.7 Z" fill="#3A070A" opacity="1"/>
<path d="M1068.7,1437.2 C1070.4,1434.7 1076.3,1446.4 1080.8,1450.9 C1085.4,1455.5 1089.7,1462.1 1096.1,1464.7 C1102.4,1467.2 1111.3,1465.9 1118.9,1466.2 C1126.6,1466.4 1137.0,1464.7 1141.8,1466.2 C1146.6,1467.7 1145.9,1472.3 1147.9,1475.3 C1149.9,1478.4 1155.0,1481.2 1154.0,1484.5 C1153.0,1487.8 1145.9,1491.6 1141.8,1495.1 C1137.7,1498.7 1132.6,1505.8 1129.6,1505.8 C1126.6,1505.8 1126.6,1497.7 1123.5,1495.1 C1120.5,1492.6 1115.9,1491.3 1111.3,1490.6 C1106.7,1489.8 1101.7,1489.0 1096.1,1490.6 C1090.5,1492.1 1082.9,1496.4 1077.8,1499.7 C1072.7,1503.0 1069.2,1507.7 1065.6,1510.4 C1062.1,1513.0 1060.0,1515.5 1056.5,1515.7 C1052.9,1516.0 1046.6,1513.3 1044.3,1511.9 C1042.0,1510.5 1041.7,1509.4 1042.8,1507.3 C1043.8,1505.3 1047.6,1502.0 1050.4,1499.7 C1053.2,1497.4 1056.7,1496.2 1059.5,1493.6 C1062.3,1491.1 1065.4,1489.0 1067.1,1484.5 C1068.9,1479.9 1069.9,1474.1 1070.2,1466.2 C1070.4,1458.3 1066.9,1439.8 1068.7,1437.2 Z" fill="#36070A" opacity="1"/>
<path d="M1015.3,1581.2 C1016.1,1579.3 1025.2,1583.8 1030.6,1584.3 C1035.9,1584.8 1045.8,1582.9 1047.3,1584.3 C1048.8,1585.7 1042.2,1589.5 1039.7,1592.7 C1037.2,1595.8 1033.7,1600.9 1032.1,1603.3 C1030.4,1605.7 1030.8,1608.4 1029.8,1607.1 C1028.8,1605.9 1028.4,1600.0 1026.0,1595.7 C1023.6,1591.4 1014.6,1583.1 1015.3,1581.2 Z" fill="#3A070A" opacity="1"/>
<path d="M942.2,1435.7 C943.2,1434.9 946.5,1435.7 949.8,1435.4 C953.1,1435.2 958.4,1434.5 962.0,1434.2 C965.6,1433.9 968.9,1433.2 971.1,1433.4 C973.4,1433.7 974.2,1433.3 975.7,1435.7 C977.2,1438.1 978.6,1443.6 980.3,1447.9 C981.9,1452.2 984.3,1457.6 985.6,1461.6 C986.9,1465.7 988.3,1469.6 988.2,1472.3 C988.1,1474.9 986.3,1476.5 985.2,1477.6 C984.0,1478.8 982.9,1479.8 981.0,1479.1 C979.2,1478.5 976.9,1476.2 974.2,1473.8 C971.5,1471.4 968.1,1468.0 965.0,1464.7 C962.0,1461.4 958.7,1457.3 955.9,1454.0 C953.1,1450.7 950.3,1447.1 948.3,1444.9 C946.3,1442.6 944.7,1441.8 943.7,1440.3 C942.7,1438.8 941.2,1436.5 942.2,1435.7 Z" fill="none" stroke="#B01010" stroke-width="5.0" opacity="0.45" filter="url(#bl2)"/>
<path d="M1068.7,1437.2 C1070.4,1434.7 1076.3,1446.4 1080.8,1450.9 C1085.4,1455.5 1089.7,1462.1 1096.1,1464.7 C1102.4,1467.2 1111.3,1465.9 1118.9,1466.2 C1126.6,1466.4 1137.0,1464.7 1141.8,1466.2 C1146.6,1467.7 1145.9,1472.3 1147.9,1475.3 C1149.9,1478.4 1155.0,1481.2 1154.0,1484.5 C1153.0,1487.8 1145.9,1491.6 1141.8,1495.1 C1137.7,1498.7 1132.6,1505.8 1129.6,1505.8 C1126.6,1505.8 1126.6,1497.7 1123.5,1495.1 C1120.5,1492.6 1115.9,1491.3 1111.3,1490.6 C1106.7,1489.8 1101.7,1489.0 1096.1,1490.6 C1090.5,1492.1 1082.9,1496.4 1077.8,1499.7 C1072.7,1503.0 1069.2,1507.7 1065.6,1510.4 C1062.1,1513.0 1060.0,1515.5 1056.5,1515.7 C1052.9,1516.0 1046.6,1513.3 1044.3,1511.9 C1042.0,1510.5 1041.7,1509.4 1042.8,1507.3 C1043.8,1505.3 1047.6,1502.0 1050.4,1499.7 C1053.2,1497.4 1056.7,1496.2 1059.5,1493.6 C1062.3,1491.1 1065.4,1489.0 1067.1,1484.5 C1068.9,1479.9 1069.9,1474.1 1070.2,1466.2 C1070.4,1458.3 1066.9,1439.8 1068.7,1437.2 Z" fill="none" stroke="#A00E0E" stroke-width="5.0" opacity="0.45" filter="url(#bl2)"/>
<path d="M1015.3,1581.2 C1016.1,1579.3 1025.2,1583.8 1030.6,1584.3 C1035.9,1584.8 1045.8,1582.9 1047.3,1584.3 C1048.8,1585.7 1042.2,1589.5 1039.7,1592.7 C1037.2,1595.8 1033.7,1600.9 1032.1,1603.3 C1030.4,1605.7 1030.8,1608.4 1029.8,1607.1 C1028.8,1605.9 1028.4,1600.0 1026.0,1595.7 C1023.6,1591.4 1014.6,1583.1 1015.3,1581.2 Z" fill="none" stroke="#C01414" stroke-width="5.0" opacity="0.45" filter="url(#bl2)"/>
<path d="M942.2,1435.7 C943.2,1434.9 946.5,1435.7 949.8,1435.4 C953.1,1435.2 958.4,1434.5 962.0,1434.2 C965.6,1433.9 968.9,1433.2 971.1,1433.4 C973.4,1433.7 974.2,1433.3 975.7,1435.7 C977.2,1438.1 978.6,1443.6 980.3,1447.9 C981.9,1452.2 984.3,1457.6 985.6,1461.6 C986.9,1465.7 988.3,1469.6 988.2,1472.3 C988.1,1474.9 986.3,1476.5 985.2,1477.6 C984.0,1478.8 982.9,1479.8 981.0,1479.1 C979.2,1478.5 976.9,1476.2 974.2,1473.8 C971.5,1471.4 968.1,1468.0 965.0,1464.7 C962.0,1461.4 958.7,1457.3 955.9,1454.0 C953.1,1450.7 950.3,1447.1 948.3,1444.9 C946.3,1442.6 944.7,1441.8 943.7,1440.3 C942.7,1438.8 941.2,1436.5 942.2,1435.7 Z" fill="none" stroke="#D41414" stroke-width="2.0" filter="url(#bl05)"/>
<path d="M1068.7,1437.2 C1070.4,1434.7 1076.3,1446.4 1080.8,1450.9 C1085.4,1455.5 1089.7,1462.1 1096.1,1464.7 C1102.4,1467.2 1111.3,1465.9 1118.9,1466.2 C1126.6,1466.4 1137.0,1464.7 1141.8,1466.2 C1146.6,1467.7 1145.9,1472.3 1147.9,1475.3 C1149.9,1478.4 1155.0,1481.2 1154.0,1484.5 C1153.0,1487.8 1145.9,1491.6 1141.8,1495.1 C1137.7,1498.7 1132.6,1505.8 1129.6,1505.8 C1126.6,1505.8 1126.6,1497.7 1123.5,1495.1 C1120.5,1492.6 1115.9,1491.3 1111.3,1490.6 C1106.7,1489.8 1101.7,1489.0 1096.1,1490.6 C1090.5,1492.1 1082.9,1496.4 1077.8,1499.7 C1072.7,1503.0 1069.2,1507.7 1065.6,1510.4 C1062.1,1513.0 1060.0,1515.5 1056.5,1515.7 C1052.9,1516.0 1046.6,1513.3 1044.3,1511.9 C1042.0,1510.5 1041.7,1509.4 1042.8,1507.3 C1043.8,1505.3 1047.6,1502.0 1050.4,1499.7 C1053.2,1497.4 1056.7,1496.2 1059.5,1493.6 C1062.3,1491.1 1065.4,1489.0 1067.1,1484.5 C1068.9,1479.9 1069.9,1474.1 1070.2,1466.2 C1070.4,1458.3 1066.9,1439.8 1068.7,1437.2 Z" fill="none" stroke="#C81212" stroke-width="2.0" filter="url(#bl05)"/>
<path d="M1015.3,1581.2 C1016.1,1579.3 1025.2,1583.8 1030.6,1584.3 C1035.9,1584.8 1045.8,1582.9 1047.3,1584.3 C1048.8,1585.7 1042.2,1589.5 1039.7,1592.7 C1037.2,1595.8 1033.7,1600.9 1032.1,1603.3 C1030.4,1605.7 1030.8,1608.4 1029.8,1607.1 C1028.8,1605.9 1028.4,1600.0 1026.0,1595.7 C1023.6,1591.4 1014.6,1583.1 1015.3,1581.2 Z" fill="none" stroke="#E01818" stroke-width="2.2" filter="url(#bl05)"/>
<path d="M917.0,1396.1 C919.5,1394.1 932.5,1394.1 935.3,1396.1 C938.1,1398.1 934.3,1404.2 933.8,1408.3 C933.3,1412.3 931.6,1416.9 932.3,1420.5 C932.9,1424.0 935.7,1427.1 937.6,1429.6 C939.5,1432.2 944.0,1434.9 943.7,1435.7 C943.5,1436.5 939.1,1434.9 936.1,1434.2 C933.0,1433.4 929.0,1431.8 925.4,1431.1 C921.9,1430.5 915.8,1432.2 914.8,1430.4 C913.7,1428.6 918.3,1424.2 919.3,1420.5 C920.3,1416.8 921.2,1412.3 920.9,1408.3 C920.5,1404.2 914.6,1398.1 917.0,1396.1 Z" fill="none" stroke="#8A0C0C" stroke-width="1.4" filter="url(#bl05)"/>
<path d="M948.3,1440.3 Q962.0,1440.3 969.6,1454.0 M955.9,1444.9 Q968.1,1435.7 974.2,1440.3 M965.0,1454.0 L983.3,1457.8" stroke="#A01010" stroke-width="1.2" fill="none" filter="url(#bl05)"/>
<path d="M1071.7,1444.9 Q1073.2,1475.3 1096.1,1487.5 Q1103.7,1481.4 1105.2,1469.2 M1048.8,1501.2 L1059.5,1489.0" stroke="#8A0C0C" stroke-width="1.2" fill="none" filter="url(#bl05)"/>
<ellipse cx="1054.9" cy="1511.9" rx="4" ry="2" fill="#F02020" filter="url(#bl1)" transform="rotate(-30 1054.9 1511.9)"/>
<ellipse cx="1096.1" cy="1489.8" rx="6" ry="1.5" fill="#E01818" filter="url(#bl1)"/>
<ellipse cx="1019.9" cy="1585.8" rx="2.5" ry="4" fill="#F02020" filter="url(#bl1)"/>
<path d="M1042,1513 Q1030,1530 1000,1560 M1131,1507 Q1120,1550 1110,1567 Q1080,1575 1047,1584 M1110,1567 Q1140,1590 1160,1605 M1154,1485 L1165,1478 M1142,1466 L1162,1447" stroke="#2E0A0E" stroke-width="1" fill="none" filter="url(#bl05)"/>
<path d="M910,1606.5 L935,1606.5" stroke="#A01010" stroke-width="1.6" fill="none" filter="url(#bl1)"/>
</g>
<rect x="88.1" y="1395.8" width="262.9" height="211.5" fill="none" stroke="#03040A" stroke-width="1.2" />
<rect x="358.9" y="1396.0" width="263.0" height="211.1" fill="none" stroke="#03040A" stroke-width="1.2" />
<rect x="630.1" y="1395.9" width="263.3" height="211.0" fill="none" stroke="#03040A" stroke-width="1.2" />
<rect x="901.6" y="1396.0" width="262.8" height="211.0" fill="none" stroke="#03040A" stroke-width="1.2" />
<text x="220.8" y="1625.6" font-size="25.5" text-anchor="middle" fill="#0a0a0a" textLength="49.8" lengthAdjust="spacingAndGlyphs" dominant-baseline="central">CON</text>
<text x="471.3" y="1625.6" font-size="25.5" text-anchor="middle" fill="#0a0a0a" textLength="38.0" lengthAdjust="spacingAndGlyphs" dominant-baseline="central">LPS</text>
<text x="760.4" y="1625.6" font-size="25.5" text-anchor="middle" fill="#0a0a0a" textLength="66.5" lengthAdjust="spacingAndGlyphs" dominant-baseline="central">JPD-H</text>
<text x="1032.8" y="1625.6" font-size="25.5" text-anchor="middle" fill="#0a0a0a" textLength="182.5" lengthAdjust="spacingAndGlyphs" dominant-baseline="central">MK-2206+JPD-H</text>
<text x="1237.9" y="452.7" font-size="34.5" font-weight="bold" fill="#2A2627">G</text>
<line x1="1409.8" y1="673.0" x2="1409.8" y2="674.2" stroke="#3A5A9C" stroke-width="1.6" />
<line x1="1399.8" y1="673.0" x2="1419.8" y2="673.0" stroke="#3A5A9C" stroke-width="1.6" />
<rect x="1391.6" y="676.0" width="36.3" height="27.5" fill="#8BA3D6" stroke="#3A5A9C" stroke-width="3.6" />
<line x1="1471.1" y1="500.3" x2="1471.1" y2="528.4" stroke="#6E9A34" stroke-width="1.6" />
<line x1="1461.1" y1="500.3" x2="1481.1" y2="500.3" stroke="#6E9A34" stroke-width="1.6" />
<rect x="1453.0" y="530.2" width="36.2" height="173.3" fill="#C9DF8A" stroke="#6E9A34" stroke-width="3.6" />
<line x1="1532.3" y1="670.4" x2="1532.3" y2="673.0" stroke="#8C6428" stroke-width="1.6" />
<line x1="1522.3" y1="670.4" x2="1542.3" y2="670.4" stroke="#8C6428" stroke-width="1.6" />
<rect x="1514.0" y="674.8" width="36.6" height="28.7" fill="#D4AE72" stroke="#8C6428" stroke-width="3.6" />
<line x1="1593.5" y1="627.4" x2="1593.5" y2="632.7" stroke="#8B1A2A" stroke-width="1.6" />
<line x1="1583.5" y1="627.4" x2="1603.5" y2="627.4" stroke="#8B1A2A" stroke-width="1.6" />
<rect x="1575.4" y="634.5" width="36.3" height="69.0" fill="#C8737B" stroke="#8B1A2A" stroke-width="3.6" />
<line x1="1368.9" y1="437.0" x2="1368.9" y2="705.0" stroke="#000" stroke-width="3" />
<line x1="1358.4" y1="438.0" x2="1368.9" y2="438.0" stroke="#000" stroke-width="3" />
<text x="1354.6" y="438.0" font-size="19.5" text-anchor="end" font-weight="bold" fill="#111" dominant-baseline="central">0.20</text>
<line x1="1358.4" y1="505.3" x2="1368.9" y2="505.3" stroke="#000" stroke-width="3" />
<text x="1354.6" y="505.3" font-size="19.5" text-anchor="end" font-weight="bold" fill="#111" dominant-baseline="central">0.15</text>
<line x1="1358.4" y1="571.4" x2="1368.9" y2="571.4" stroke="#000" stroke-width="3" />
<text x="1354.6" y="571.4" font-size="19.5" text-anchor="end" font-weight="bold" fill="#111" dominant-baseline="central">0.10</text>
<line x1="1358.4" y1="637.4" x2="1368.9" y2="637.4" stroke="#000" stroke-width="3" />
<text x="1354.6" y="637.4" font-size="19.5" text-anchor="end" font-weight="bold" fill="#111" dominant-baseline="central">0.05</text>
<line x1="1358.4" y1="703.5" x2="1368.9" y2="703.5" stroke="#000" stroke-width="3" />
<text x="1354.6" y="703.5" font-size="19.5" text-anchor="end" font-weight="bold" fill="#111" dominant-baseline="central">0.00</text>
<line x1="1357.0" y1="703.5" x2="1635.9" y2="703.5" stroke="#000" stroke-width="3" />
<line x1="1409.5" y1="703.5" x2="1409.5" y2="714.7" stroke="#000" stroke-width="3" />
<line x1="1470.8" y1="703.5" x2="1470.8" y2="714.7" stroke="#000" stroke-width="3" />
<line x1="1532.0" y1="703.5" x2="1532.0" y2="714.7" stroke="#000" stroke-width="3" />
<line x1="1593.4" y1="703.5" x2="1593.4" y2="714.7" stroke="#000" stroke-width="3" />
<text x="1404.5" y="724.0" font-size="19.5" font-weight="bold" text-anchor="end" dominant-baseline="hanging" fill="#111" transform="rotate(-45 1404.5 724.0)">Ctrl</text>
<text x="1465.8" y="724.0" font-size="19.5" font-weight="bold" text-anchor="end" dominant-baseline="hanging" fill="#111" transform="rotate(-45 1465.8 724.0)">OA&amp;PA</text>
<text x="1527.0" y="724.0" font-size="19.5" font-weight="bold" text-anchor="end" dominant-baseline="hanging" fill="#111" transform="rotate(-45 1527.0 724.0)">JPD-H</text>
<text x="1588.4" y="724.0" font-size="19.5" font-weight="bold" text-anchor="end" dominant-baseline="hanging" fill="#111" transform="rotate(-45 1588.4 724.0)">MK2206+JPD</text>
<text x="1470.8" y="489.5" font-size="19.5" text-anchor="middle" fill="#111" textLength="29.6" lengthAdjust="spacingAndGlyphs" dominant-baseline="central">###</text>
<text x="1531.8" y="661.5" font-size="17" text-anchor="middle" fill="#111" dominant-baseline="central">***</text>
<text x="1593.2" y="618.5" font-size="17" text-anchor="middle" fill="#111" dominant-baseline="central">***</text>
<line x1="1530.0" y1="591.6" x2="1593.2" y2="591.6" stroke="#222" stroke-width="1.5" />
<line x1="1530.0" y1="588.1" x2="1530.0" y2="595.1" stroke="#888" stroke-width="1.3" />
<line x1="1593.2" y1="588.1" x2="1593.2" y2="595.1" stroke="#888" stroke-width="1.3" />
<text x="1561.0" y="574.5" font-size="21" text-anchor="middle" fill="#111" dominant-baseline="central">&amp;</text>
<text x="1265.6" y="571.4" font-size="24.3" text-anchor="middle" font-weight="bold" fill="#111" textLength="30.3" lengthAdjust="spacingAndGlyphs" transform="rotate(-90 1265.6 571.4)" dominant-baseline="central">TG</text>
<text x="1293.2" y="571.2" font-size="22" text-anchor="middle" font-weight="bold" fill="#111" textLength="144.0" lengthAdjust="spacingAndGlyphs" transform="rotate(-90 1293.2 571.2)" dominant-baseline="central">(mmol/g prot)</text>
<text x="1231.7" y="865.0" font-size="34.5" font-weight="bold" fill="#2A2627">H</text>
<text x="1506.6" y="840.0" font-size="24" text-anchor="middle" fill="#111" textLength="70.5" lengthAdjust="spacingAndGlyphs" font-style="italic" dominant-baseline="central">Pparα</text>
<line x1="1414.8" y1="941.5" x2="1414.8" y2="971.7" stroke="#3A5A9C" stroke-width="1.6" />
<line x1="1404.8" y1="941.5" x2="1424.8" y2="941.5" stroke="#3A5A9C" stroke-width="1.6" />
<rect x="1396.3" y="973.5" width="36.9" height="174.5" fill="#8BA3D6" stroke="#3A5A9C" stroke-width="3.6" />
<line x1="1476.0" y1="1137.1" x2="1476.0" y2="1143.4" stroke="#6E9A34" stroke-width="1.6" />
<line x1="1466.0" y1="1137.1" x2="1486.0" y2="1137.1" stroke="#6E9A34" stroke-width="1.6" />
<rect x="1457.6" y="1145.2" width="36.9" height="2.8" fill="#C9DF8A" stroke="#6E9A34" stroke-width="3.6" />
<line x1="1537.2" y1="1032.8" x2="1537.2" y2="1039.0" stroke="#8C6428" stroke-width="1.6" />
<line x1="1527.2" y1="1032.8" x2="1547.2" y2="1032.8" stroke="#8C6428" stroke-width="1.6" />
<rect x="1518.7" y="1040.8" width="36.9" height="107.2" fill="#D4AE72" stroke="#8C6428" stroke-width="3.6" />
<line x1="1598.5" y1="1109.0" x2="1598.5" y2="1111.9" stroke="#8B1A2A" stroke-width="1.6" />
<line x1="1588.5" y1="1109.0" x2="1608.5" y2="1109.0" stroke="#8B1A2A" stroke-width="1.6" />
<rect x="1580.1" y="1113.7" width="36.9" height="34.3" fill="#C8737B" stroke="#8B1A2A" stroke-width="3.6" />
<line x1="1373.3" y1="881.3" x2="1373.3" y2="1149.5" stroke="#000" stroke-width="3" />
<line x1="1362.8" y1="882.3" x2="1373.3" y2="882.3" stroke="#000" stroke-width="3" />
<text x="1359.0" y="882.3" font-size="19.5" text-anchor="end" font-weight="bold" fill="#111" dominant-baseline="central">1.5</text>
<line x1="1362.8" y1="971.7" x2="1373.3" y2="971.7" stroke="#000" stroke-width="3" />
<text x="1359.0" y="971.7" font-size="19.5" text-anchor="end" font-weight="bold" fill="#111" dominant-baseline="central">1.0</text>
<line x1="1362.8" y1="1059.9" x2="1373.3" y2="1059.9" stroke="#000" stroke-width="3" />
<text x="1359.0" y="1059.9" font-size="19.5" text-anchor="end" font-weight="bold" fill="#111" dominant-baseline="central">0.5</text>
<line x1="1362.8" y1="1148.0" x2="1373.3" y2="1148.0" stroke="#000" stroke-width="3" />
<text x="1359.0" y="1148.0" font-size="19.5" text-anchor="end" font-weight="bold" fill="#111" dominant-baseline="central">0.0</text>
<line x1="1363.3" y1="1148.0" x2="1640.6" y2="1148.0" stroke="#000" stroke-width="3" />
<line x1="1414.0" y1="1148.0" x2="1414.0" y2="1159.2" stroke="#000" stroke-width="3" />
<line x1="1475.5" y1="1148.0" x2="1475.5" y2="1159.2" stroke="#000" stroke-width="3" />
<line x1="1537.1" y1="1148.0" x2="1537.1" y2="1159.2" stroke="#000" stroke-width="3" />
<line x1="1598.5" y1="1148.0" x2="1598.5" y2="1159.2" stroke="#000" stroke-width="3" />
<text x="1409.0" y="1168.5" font-size="19.5" font-weight="bold" text-anchor="end" dominant-baseline="hanging" fill="#111" transform="rotate(-45 1409.0 1168.5)">Ctrl</text>
<text x="1470.5" y="1168.5" font-size="19.5" font-weight="bold" text-anchor="end" dominant-baseline="hanging" fill="#111" transform="rotate(-45 1470.5 1168.5)">OA&amp;PA</text>
<text x="1532.1" y="1168.5" font-size="19.5" font-weight="bold" text-anchor="end" dominant-baseline="hanging" fill="#111" transform="rotate(-45 1532.1 1168.5)">JPD-H</text>
<text x="1593.5" y="1168.5" font-size="19.5" font-weight="bold" text-anchor="end" dominant-baseline="hanging" fill="#111" transform="rotate(-45 1593.5 1168.5)">MK2206+JPD-H</text>
<text x="1476.0" y="1122.8" font-size="23.5" text-anchor="middle" fill="#111" textLength="36.0" lengthAdjust="spacingAndGlyphs" dominant-baseline="central">###</text>
<text x="1537.8" y="1023.0" font-size="19" text-anchor="middle" fill="#111" dominant-baseline="central">**</text>
<line x1="1541.8" y1="989.8" x2="1601.6" y2="989.8" stroke="#222" stroke-width="1.5" />
<line x1="1541.8" y1="986.3" x2="1541.8" y2="993.3" stroke="#888" stroke-width="1.3" />
<line x1="1601.6" y1="986.3" x2="1601.6" y2="993.3" stroke="#888" stroke-width="1.3" />
<text x="1571.4" y="968.0" font-size="21" text-anchor="middle" fill="#111" dominant-baseline="central">&amp;</text>
<text x="1283.9" y="1014.7" font-size="22" text-anchor="middle" font-weight="bold" fill="#111" textLength="207.0" lengthAdjust="spacingAndGlyphs" transform="rotate(-90 1283.9 1014.7)" dominant-baseline="central">Relative mRNA level</text>
<text x="1310.3" y="1015.1" font-size="23" text-anchor="middle" font-weight="bold" fill="#111" textLength="138.0" lengthAdjust="spacingAndGlyphs" transform="rotate(-90 1310.3 1015.1)" dominant-baseline="central">Fold of CON</text>
<text x="1310.8" y="1097.0" font-size="23" text-anchor="middle" fill="#222" textLength="7.0" lengthAdjust="spacingAndGlyphs" transform="rotate(-90 1310.8 1097.0)" dominant-baseline="central">(</text>
<text x="1310.8" y="939.6" font-size="23" text-anchor="middle" fill="#222" textLength="7.0" lengthAdjust="spacingAndGlyphs" transform="rotate(-90 1310.8 939.6)" dominant-baseline="central">)</text>
<text x="1507.2" y="1321.2" font-size="24" text-anchor="middle" fill="#111" textLength="96.0" lengthAdjust="spacingAndGlyphs" font-style="italic" dominant-baseline="central">Srebp1c</text>
<line x1="1413.8" y1="1573.5" x2="1413.8" y2="1577.2" stroke="#3A5A9C" stroke-width="1.6" />
<line x1="1403.8" y1="1573.5" x2="1423.8" y2="1573.5" stroke="#3A5A9C" stroke-width="1.6" />
<rect x="1395.6" y="1579.0" width="36.3" height="50.0" fill="#8BA3D6" stroke="#3A5A9C" stroke-width="3.6" />
<line x1="1475.2" y1="1413.7" x2="1475.2" y2="1450.7" stroke="#6E9A34" stroke-width="1.6" />
<line x1="1465.2" y1="1413.7" x2="1485.2" y2="1413.7" stroke="#6E9A34" stroke-width="1.6" />
<rect x="1457.0" y="1452.5" width="36.3" height="176.5" fill="#C9DF8A" stroke="#6E9A34" stroke-width="3.6" />
<line x1="1536.5" y1="1598.4" x2="1536.5" y2="1602.8" stroke="#8C6428" stroke-width="1.6" />
<line x1="1526.5" y1="1598.4" x2="1546.5" y2="1598.4" stroke="#8C6428" stroke-width="1.6" />
<rect x="1518.4" y="1604.6" width="36.2" height="24.4" fill="#D4AE72" stroke="#8C6428" stroke-width="3.6" />
<line x1="1597.8" y1="1494.7" x2="1597.8" y2="1517.1" stroke="#8B1A2A" stroke-width="1.6" />
<line x1="1587.8" y1="1494.7" x2="1607.8" y2="1494.7" stroke="#8B1A2A" stroke-width="1.6" />
<rect x="1579.4" y="1518.9" width="36.9" height="110.1" fill="#C8737B" stroke="#8B1A2A" stroke-width="3.6" />
<line x1="1372.6" y1="1362.8" x2="1372.6" y2="1630.5" stroke="#000" stroke-width="3" />
<line x1="1362.1" y1="1629.0" x2="1372.6" y2="1629.0" stroke="#000" stroke-width="3" />
<text x="1358.3" y="1629.0" font-size="19.5" text-anchor="end" font-weight="bold" fill="#111" dominant-baseline="central">0</text>
<line x1="1362.1" y1="1576.0" x2="1372.6" y2="1576.0" stroke="#000" stroke-width="3" />
<text x="1358.3" y="1576.0" font-size="19.5" text-anchor="end" font-weight="bold" fill="#111" dominant-baseline="central">1</text>
<line x1="1362.1" y1="1522.9" x2="1372.6" y2="1522.9" stroke="#000" stroke-width="3" />
<text x="1358.3" y="1522.9" font-size="19.5" text-anchor="end" font-weight="bold" fill="#111" dominant-baseline="central">2</text>
<line x1="1362.1" y1="1469.8" x2="1372.6" y2="1469.8" stroke="#000" stroke-width="3" />
<text x="1358.3" y="1469.8" font-size="19.5" text-anchor="end" font-weight="bold" fill="#111" dominant-baseline="central">3</text>
<line x1="1362.1" y1="1416.8" x2="1372.6" y2="1416.8" stroke="#000" stroke-width="3" />
<text x="1358.3" y="1416.8" font-size="19.5" text-anchor="end" font-weight="bold" fill="#111" dominant-baseline="central">4</text>
<line x1="1362.1" y1="1363.8" x2="1372.6" y2="1363.8" stroke="#000" stroke-width="3" />
<text x="1358.3" y="1363.8" font-size="19.5" text-anchor="end" font-weight="bold" fill="#111" dominant-baseline="central">5</text>
<line x1="1361.7" y1="1629.0" x2="1640.0" y2="1629.0" stroke="#000" stroke-width="3" />
<line x1="1413.5" y1="1629.0" x2="1413.5" y2="1640.2" stroke="#000" stroke-width="3" />
<line x1="1475.0" y1="1629.0" x2="1475.0" y2="1640.2" stroke="#000" stroke-width="3" />
<line x1="1536.3" y1="1629.0" x2="1536.3" y2="1640.2" stroke="#000" stroke-width="3" />
<line x1="1597.8" y1="1629.0" x2="1597.8" y2="1640.2" stroke="#000" stroke-width="3" />
<text x="1408.5" y="1649.5" font-size="19.5" font-weight="bold" text-anchor="end" dominant-baseline="hanging" fill="#111" transform="rotate(-45 1408.5 1649.5)">Ctrl</text>
<text x="1470.0" y="1649.5" font-size="19.5" font-weight="bold" text-anchor="end" dominant-baseline="hanging" fill="#111" transform="rotate(-45 1470.0 1649.5)">OA&amp;PA</text>
<text x="1531.3" y="1649.5" font-size="19.5" font-weight="bold" text-anchor="end" dominant-baseline="hanging" fill="#111" transform="rotate(-45 1531.3 1649.5)">JPD-H</text>
<text x="1592.8" y="1649.5" font-size="19.5" font-weight="bold" text-anchor="end" dominant-baseline="hanging" fill="#111" transform="rotate(-45 1592.8 1649.5)">MK2206+JPD-H</text>
<text x="1474.8" y="1399.0" font-size="21.5" text-anchor="middle" fill="#111" textLength="24.5" lengthAdjust="spacingAndGlyphs" dominant-baseline="central">##</text>
<text x="1535.9" y="1589.5" font-size="19" text-anchor="middle" fill="#111" dominant-baseline="central">**</text>
<line x1="1534.0" y1="1482.2" x2="1601.6" y2="1482.2" stroke="#222" stroke-width="1.5" />
<line x1="1534.0" y1="1478.7" x2="1534.0" y2="1485.7" stroke="#888" stroke-width="1.3" />
<line x1="1601.6" y1="1478.7" x2="1601.6" y2="1485.7" stroke="#888" stroke-width="1.3" />
<text x="1567.4" y="1462.3" font-size="21" text-anchor="middle" fill="#111" dominant-baseline="central">&amp;</text>
<text x="1296.3" y="1497.2" font-size="22" text-anchor="middle" font-weight="bold" fill="#111" textLength="207.0" lengthAdjust="spacingAndGlyphs" transform="rotate(-90 1296.3 1497.2)" dominant-baseline="central">Relative mRNA level</text>
<text x="1321.2" y="1496.4" font-size="23" text-anchor="middle" font-weight="bold" fill="#111" textLength="138.0" lengthAdjust="spacingAndGlyphs" transform="rotate(-90 1321.2 1496.4)" dominant-baseline="central">Fold of CON</text>
<text x="1321.7" y="1578.3" font-size="23" text-anchor="middle" fill="#222" textLength="7.0" lengthAdjust="spacingAndGlyphs" transform="rotate(-90 1321.7 1578.3)" dominant-baseline="central">(</text>
<text x="1321.7" y="1420.9" font-size="23" text-anchor="middle" fill="#222" textLength="7.0" lengthAdjust="spacingAndGlyphs" transform="rotate(-90 1321.7 1420.9)" dominant-baseline="central">)</text>
</svg>
</body></html>
